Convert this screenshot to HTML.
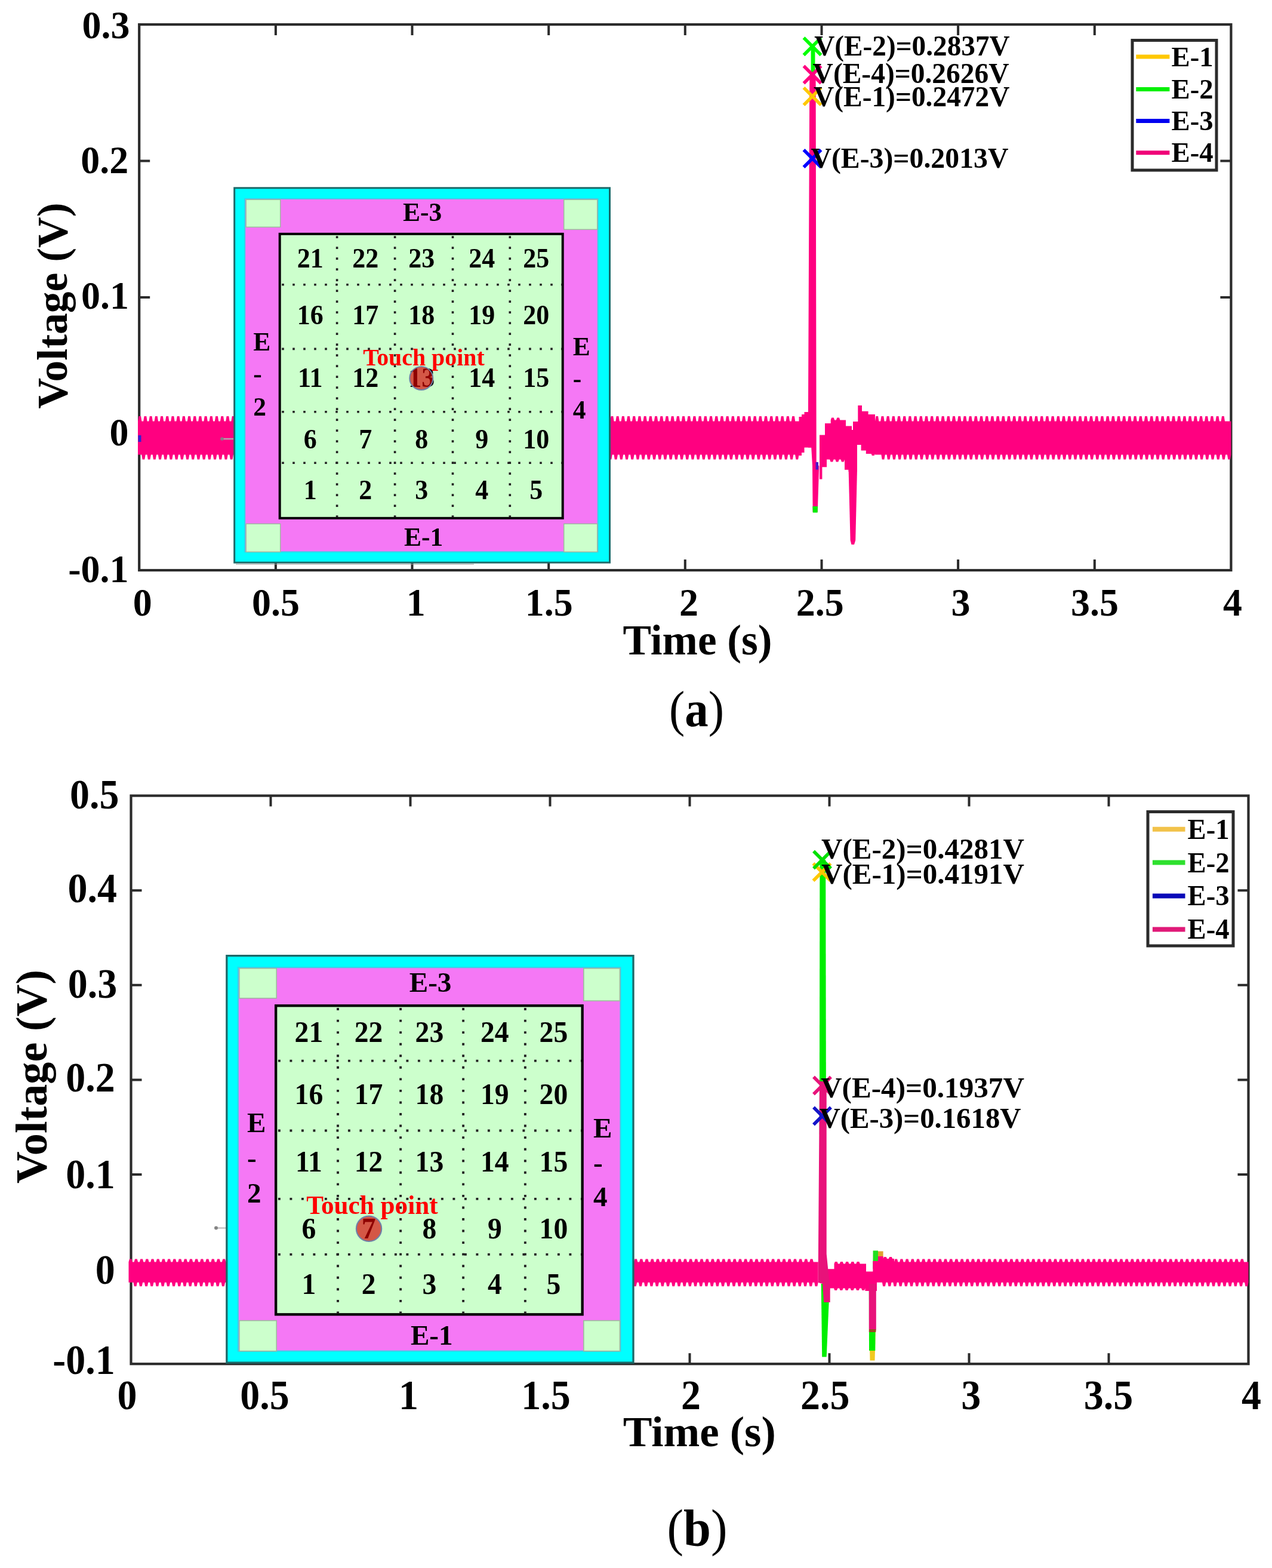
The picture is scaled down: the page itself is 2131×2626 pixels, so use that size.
<!DOCTYPE html><html><head><meta charset="utf-8"><title>Voltage vs time</title>
<style>html,body{margin:0;padding:0;background:#fff;overflow:hidden;}svg{display:block;}text{font-family:'Liberation Serif', 'Times New Roman', serif;}</style></head><body>
<svg width="2131" height="2626" viewBox="0 0 2131 2626">
<rect width="2131" height="2626" fill="#fff"/>
<rect x="233.2" y="41" width="1829.2" height="914" fill="none" stroke="#2b2b2b" stroke-width="4.2"/>
<path d="M461.9,41 V59 M461.9,955 V937 M690.5,41 V59 M690.5,955 V937 M919.2,41 V59 M919.2,955 V937 M1147.8,41 V59 M1147.8,955 V937 M1376.5,41 V59 M1376.5,955 V937 M1605.1,41 V59 M1605.1,955 V937 M1833.8,41 V59 M1833.8,955 V937 M233.2,269.5 H251.2 M2062.4,269.5 H2044.4 M233.2,498 H251.2 M2062.4,498 H2044.4 M233.2,726.5 H251.2 M2062.4,726.5 H2044.4" stroke="#2b2b2b" stroke-width="4" fill="none"/>
<g id="sigA">
<path d="M1358.3,300 L1358.6,78 L1365.4,78 L1365.8,300 Z" fill="#00ff00"/>
<path d="M231,705.5 L232.4,697 L236.1,697 L237.4,705.5 L240.2,705.5 L241.6,697 L245.3,697 L246.6,705.5 L249.4,705.5 L250.8,697 L254.5,697 L255.8,705.5 L258.6,705.5 L260,697 L263.7,697 L265,705.5 L267.8,705.5 L269.2,697 L272.9,697 L274.2,705.5 L277,705.5 L278.4,697 L282.1,697 L283.4,705.5 L286.2,705.5 L287.6,697 L291.3,697 L292.6,705.5 L295.4,705.5 L296.8,697 L300.5,697 L301.8,705.5 L304.6,705.5 L306,697 L309.7,697 L311,705.5 L313.8,705.5 L315.2,697 L318.9,697 L320.2,705.5 L323,705.5 L324.4,697 L328.1,697 L329.4,705.5 L332.2,705.5 L333.6,697 L337.3,697 L338.6,705.5 L341.4,705.5 L342.8,697 L346.5,697 L347.8,705.5 L350.6,705.5 L352,697 L355.7,697 L357,705.5 L359.8,705.5 L361.2,697 L364.9,697 L366.2,705.5 L369,705.5 L370.4,697 L374.1,697 L375.4,705.5 L378.2,705.5 L379.6,697 L383.3,697 L384.6,705.5 L387.4,705.5 L388.8,697 L392.5,697 L393.8,705.5 L396.6,705.5 L398,697 L401.7,697 L403,705.5 L405.8,705.5 L407.2,697 L410.9,697 L412.2,705.5 L415,705.5 L416.4,697 L420.1,697 L421.4,705.5 L424.2,705.5 L425.6,697 L429.3,697 L430.6,705.5 L433.4,705.5 L434.8,697 L438.5,697 L439.8,705.5 L442.6,705.5 L444,697 L447.7,697 L449,705.5 L451.8,705.5 L453.2,697 L456.9,697 L458.2,705.5 L461,705.5 L462.4,697 L466.1,697 L467.4,705.5 L470.2,705.5 L471.6,697 L475.3,697 L476.6,705.5 L479.4,705.5 L480.8,697 L484.5,697 L485.8,705.5 L488.6,705.5 L490,697 L493.7,697 L495,705.5 L497.8,705.5 L499.2,697 L502.9,697 L504.2,705.5 L507,705.5 L508.4,697 L512.1,697 L513.4,705.5 L516.2,705.5 L517.6,697 L521.3,697 L522.6,705.5 L525.4,705.5 L526.8,697 L530.5,697 L531.8,705.5 L534.6,705.5 L536,697 L539.7,697 L541,705.5 L543.8,705.5 L545.2,697 L548.9,697 L550.2,705.5 L553,705.5 L554.4,697 L558.1,697 L559.4,705.5 L562.2,705.5 L563.6,697 L567.3,697 L568.6,705.5 L571.4,705.5 L572.8,697 L576.5,697 L577.8,705.5 L580.6,705.5 L582,697 L585.7,697 L587,705.5 L589.8,705.5 L591.2,697 L594.9,697 L596.2,705.5 L599,705.5 L600.4,697 L604.1,697 L605.4,705.5 L608.2,705.5 L609.6,697 L613.3,697 L614.6,705.5 L617.4,705.5 L618.8,697 L622.5,697 L623.8,705.5 L626.6,705.5 L628,697 L631.7,697 L633,705.5 L635.8,705.5 L637.2,697 L640.9,697 L642.2,705.5 L645,705.5 L646.4,697 L650.1,697 L651.4,705.5 L654.2,705.5 L655.6,697 L659.3,697 L660.6,705.5 L663.4,705.5 L664.8,697 L668.5,697 L669.8,705.5 L672.6,705.5 L674,697 L677.7,697 L679,705.5 L681.8,705.5 L683.2,697 L686.9,697 L688.2,705.5 L691,705.5 L692.4,697 L696.1,697 L697.4,705.5 L700.2,705.5 L701.6,697 L705.3,697 L706.6,705.5 L709.4,705.5 L710.8,697 L714.5,697 L715.8,705.5 L718.6,705.5 L720,697 L723.7,697 L725,705.5 L727.8,705.5 L729.2,697 L732.9,697 L734.2,705.5 L737,705.5 L738.4,697 L742.1,697 L743.4,705.5 L746.2,705.5 L747.6,697 L751.3,697 L752.6,705.5 L755.4,705.5 L756.8,697 L760.5,697 L761.8,705.5 L764.6,705.5 L766,697 L769.7,697 L771,705.5 L773.8,705.5 L775.2,697 L778.9,697 L780.2,705.5 L783,705.5 L784.4,697 L788.1,697 L789.4,705.5 L792.2,705.5 L793.6,697 L797.3,697 L798.6,705.5 L801.4,705.5 L802.8,697 L806.5,697 L807.8,705.5 L810.6,705.5 L812,697 L815.7,697 L817,705.5 L819.8,705.5 L821.2,697 L824.9,697 L826.2,705.5 L829,705.5 L830.4,697 L834.1,697 L835.4,705.5 L838.2,705.5 L839.6,697 L843.3,697 L844.6,705.5 L847.4,705.5 L848.8,697 L852.5,697 L853.8,705.5 L856.6,705.5 L858,697 L861.7,697 L863,705.5 L865.8,705.5 L867.2,697 L870.9,697 L872.2,705.5 L875,705.5 L876.4,697 L880.1,697 L881.4,705.5 L884.2,705.5 L885.6,697 L889.3,697 L890.6,705.5 L893.4,705.5 L894.8,697 L898.5,697 L899.8,705.5 L902.6,705.5 L904,697 L907.7,697 L909,705.5 L911.8,705.5 L913.2,697 L916.9,697 L918.2,705.5 L921,705.5 L922.4,697 L926.1,697 L927.4,705.5 L930.2,705.5 L931.6,697 L935.3,697 L936.6,705.5 L939.4,705.5 L940.8,697 L944.5,697 L945.8,705.5 L948.6,705.5 L950,697 L953.7,697 L955,705.5 L957.8,705.5 L959.2,697 L962.9,697 L964.2,705.5 L967,705.5 L968.4,697 L972.1,697 L973.4,705.5 L976.2,705.5 L977.6,697 L981.3,697 L982.6,705.5 L985.4,705.5 L986.8,697 L990.5,697 L991.8,705.5 L994.6,705.5 L996,697 L999.7,697 L1001,705.5 L1003.8,705.5 L1005.2,697 L1008.9,697 L1010.2,705.5 L1013,705.5 L1014.4,697 L1018.1,697 L1019.4,705.5 L1022.2,705.5 L1023.6,697 L1027.3,697 L1028.6,705.5 L1031.4,705.5 L1032.8,697 L1036.5,697 L1037.8,705.5 L1040.6,705.5 L1042,697 L1045.7,697 L1047,705.5 L1049.8,705.5 L1051.2,697 L1054.9,697 L1056.2,705.5 L1059,705.5 L1060.4,697 L1064.1,697 L1065.4,705.5 L1068.2,705.5 L1069.6,697 L1073.3,697 L1074.6,705.5 L1077.4,705.5 L1078.8,697 L1082.5,697 L1083.8,705.5 L1086.6,705.5 L1088,697 L1091.7,697 L1093,705.5 L1095.8,705.5 L1097.2,697 L1100.9,697 L1102.2,705.5 L1105,705.5 L1106.4,697 L1110.1,697 L1111.4,705.5 L1114.2,705.5 L1115.6,697 L1119.3,697 L1120.6,705.5 L1123.4,705.5 L1124.8,697 L1128.5,697 L1129.8,705.5 L1132.6,705.5 L1134,697 L1137.7,697 L1139,705.5 L1141.8,705.5 L1143.2,697 L1146.9,697 L1148.2,705.5 L1151,705.5 L1152.4,697 L1156.1,697 L1157.4,705.5 L1160.2,705.5 L1161.6,697 L1165.3,697 L1166.6,705.5 L1169.4,705.5 L1170.8,697 L1174.5,697 L1175.8,705.5 L1178.6,705.5 L1180,697 L1183.7,697 L1185,705.5 L1187.8,705.5 L1189.2,697 L1192.9,697 L1194.2,705.5 L1197,705.5 L1198.4,697 L1202.1,697 L1203.4,705.5 L1206.2,705.5 L1207.6,697 L1211.3,697 L1212.6,705.5 L1215.4,705.5 L1216.8,697 L1220.5,697 L1221.8,705.5 L1224.6,705.5 L1226,697 L1229.7,697 L1231,705.5 L1233.8,705.5 L1235.2,697 L1238.9,697 L1240.2,705.5 L1243,705.5 L1244.4,697 L1248.1,697 L1249.4,705.5 L1252.2,705.5 L1253.6,697 L1257.3,697 L1258.6,705.5 L1261.4,705.5 L1262.8,697 L1266.5,697 L1267.8,705.5 L1270.6,705.5 L1272,697 L1275.7,697 L1277,705.5 L1279.8,705.5 L1281.2,697 L1284.9,697 L1286.2,705.5 L1289,705.5 L1290.4,697 L1294.1,697 L1295.4,705.5 L1298.2,705.5 L1299.6,697 L1303.3,697 L1304.6,705.5 L1307.4,705.5 L1308.8,697 L1312.5,697 L1313.8,705.5 L1316.6,705.5 L1318,697 L1321.7,697 L1323,705.5 L1325.8,705.5 L1327.2,697 L1330.9,697 L1332.2,705.5 L1335,705.5 L1338.5,705.5 L1338.5,698 L1343,698 L1343,694 L1347.5,694 L1347.5,690 L1353.9,690 L1359.5,749.4 L1347.5,749.4 L1347.5,758 L1343,758 L1343,763 L1338.5,763 L1338.5,761.5 L1337.1,769.5 L1333.4,769.5 L1332.1,761.5 L1329.3,761.5 L1327.9,769.5 L1324.2,769.5 L1322.9,761.5 L1320.1,761.5 L1318.7,769.5 L1315,769.5 L1313.7,761.5 L1310.9,761.5 L1309.5,769.5 L1305.8,769.5 L1304.5,761.5 L1301.7,761.5 L1300.3,769.5 L1296.6,769.5 L1295.3,761.5 L1292.5,761.5 L1291.1,769.5 L1287.4,769.5 L1286.1,761.5 L1283.3,761.5 L1281.9,769.5 L1278.2,769.5 L1276.9,761.5 L1274.1,761.5 L1272.7,769.5 L1269,769.5 L1267.7,761.5 L1264.9,761.5 L1263.5,769.5 L1259.8,769.5 L1258.5,761.5 L1255.7,761.5 L1254.3,769.5 L1250.6,769.5 L1249.3,761.5 L1246.5,761.5 L1245.1,769.5 L1241.4,769.5 L1240.1,761.5 L1237.3,761.5 L1235.9,769.5 L1232.2,769.5 L1230.9,761.5 L1228.1,761.5 L1226.7,769.5 L1223,769.5 L1221.7,761.5 L1218.9,761.5 L1217.5,769.5 L1213.8,769.5 L1212.5,761.5 L1209.7,761.5 L1208.3,769.5 L1204.6,769.5 L1203.3,761.5 L1200.5,761.5 L1199.1,769.5 L1195.4,769.5 L1194.1,761.5 L1191.3,761.5 L1189.9,769.5 L1186.2,769.5 L1184.9,761.5 L1182.1,761.5 L1180.7,769.5 L1177,769.5 L1175.7,761.5 L1172.9,761.5 L1171.5,769.5 L1167.8,769.5 L1166.5,761.5 L1163.7,761.5 L1162.3,769.5 L1158.6,769.5 L1157.3,761.5 L1154.5,761.5 L1153.1,769.5 L1149.4,769.5 L1148.1,761.5 L1145.3,761.5 L1143.9,769.5 L1140.2,769.5 L1138.9,761.5 L1136.1,761.5 L1134.7,769.5 L1131,769.5 L1129.7,761.5 L1126.9,761.5 L1125.5,769.5 L1121.8,769.5 L1120.5,761.5 L1117.7,761.5 L1116.3,769.5 L1112.6,769.5 L1111.3,761.5 L1108.5,761.5 L1107.1,769.5 L1103.4,769.5 L1102.1,761.5 L1099.3,761.5 L1097.9,769.5 L1094.2,769.5 L1092.9,761.5 L1090.1,761.5 L1088.7,769.5 L1085,769.5 L1083.7,761.5 L1080.9,761.5 L1079.5,769.5 L1075.8,769.5 L1074.5,761.5 L1071.7,761.5 L1070.3,769.5 L1066.6,769.5 L1065.3,761.5 L1062.5,761.5 L1061.1,769.5 L1057.4,769.5 L1056.1,761.5 L1053.3,761.5 L1051.9,769.5 L1048.2,769.5 L1046.9,761.5 L1044.1,761.5 L1042.7,769.5 L1039,769.5 L1037.7,761.5 L1034.9,761.5 L1033.5,769.5 L1029.8,769.5 L1028.5,761.5 L1025.7,761.5 L1024.3,769.5 L1020.6,769.5 L1019.3,761.5 L1016.5,761.5 L1015.1,769.5 L1011.4,769.5 L1010.1,761.5 L1007.3,761.5 L1005.9,769.5 L1002.2,769.5 L1000.9,761.5 L998.1,761.5 L996.7,769.5 L993,769.5 L991.7,761.5 L988.9,761.5 L987.5,769.5 L983.8,769.5 L982.5,761.5 L979.7,761.5 L978.3,769.5 L974.6,769.5 L973.3,761.5 L970.5,761.5 L969.1,769.5 L965.4,769.5 L964.1,761.5 L961.3,761.5 L959.9,769.5 L956.2,769.5 L954.9,761.5 L952.1,761.5 L950.7,769.5 L947,769.5 L945.7,761.5 L942.9,761.5 L941.5,769.5 L937.8,769.5 L936.5,761.5 L933.7,761.5 L932.3,769.5 L928.6,769.5 L927.3,761.5 L924.5,761.5 L923.1,769.5 L919.4,769.5 L918.1,761.5 L915.3,761.5 L913.9,769.5 L910.2,769.5 L908.9,761.5 L906.1,761.5 L904.7,769.5 L901,769.5 L899.7,761.5 L896.9,761.5 L895.5,769.5 L891.8,769.5 L890.5,761.5 L887.7,761.5 L886.3,769.5 L882.6,769.5 L881.3,761.5 L878.5,761.5 L877.1,769.5 L873.4,769.5 L872.1,761.5 L869.3,761.5 L867.9,769.5 L864.2,769.5 L862.9,761.5 L860.1,761.5 L858.7,769.5 L855,769.5 L853.7,761.5 L850.9,761.5 L849.5,769.5 L845.8,769.5 L844.5,761.5 L841.7,761.5 L840.3,769.5 L836.6,769.5 L835.3,761.5 L832.5,761.5 L831.1,769.5 L827.4,769.5 L826.1,761.5 L823.3,761.5 L821.9,769.5 L818.2,769.5 L816.9,761.5 L814.1,761.5 L812.7,769.5 L809,769.5 L807.7,761.5 L804.9,761.5 L803.5,769.5 L799.8,769.5 L798.5,761.5 L795.7,761.5 L794.3,769.5 L790.6,769.5 L789.3,761.5 L786.5,761.5 L785.1,769.5 L781.4,769.5 L780.1,761.5 L777.3,761.5 L775.9,769.5 L772.2,769.5 L770.9,761.5 L768.1,761.5 L766.7,769.5 L763,769.5 L761.7,761.5 L758.9,761.5 L757.5,769.5 L753.8,769.5 L752.5,761.5 L749.7,761.5 L748.3,769.5 L744.6,769.5 L743.3,761.5 L740.5,761.5 L739.1,769.5 L735.4,769.5 L734.1,761.5 L731.3,761.5 L729.9,769.5 L726.2,769.5 L724.9,761.5 L722.1,761.5 L720.7,769.5 L717,769.5 L715.7,761.5 L712.9,761.5 L711.5,769.5 L707.8,769.5 L706.5,761.5 L703.7,761.5 L702.3,769.5 L698.6,769.5 L697.3,761.5 L694.5,761.5 L693.1,769.5 L689.4,769.5 L688.1,761.5 L685.3,761.5 L683.9,769.5 L680.2,769.5 L678.9,761.5 L676.1,761.5 L674.7,769.5 L671,769.5 L669.7,761.5 L666.9,761.5 L665.5,769.5 L661.8,769.5 L660.5,761.5 L657.7,761.5 L656.3,769.5 L652.6,769.5 L651.3,761.5 L648.5,761.5 L647.1,769.5 L643.4,769.5 L642.1,761.5 L639.3,761.5 L637.9,769.5 L634.2,769.5 L632.9,761.5 L630.1,761.5 L628.7,769.5 L625,769.5 L623.7,761.5 L620.9,761.5 L619.5,769.5 L615.8,769.5 L614.5,761.5 L611.7,761.5 L610.3,769.5 L606.6,769.5 L605.3,761.5 L602.5,761.5 L601.1,769.5 L597.4,769.5 L596.1,761.5 L593.3,761.5 L591.9,769.5 L588.2,769.5 L586.9,761.5 L584.1,761.5 L582.7,769.5 L579,769.5 L577.7,761.5 L574.9,761.5 L573.5,769.5 L569.8,769.5 L568.5,761.5 L565.7,761.5 L564.3,769.5 L560.6,769.5 L559.3,761.5 L556.5,761.5 L555.1,769.5 L551.4,769.5 L550.1,761.5 L547.3,761.5 L545.9,769.5 L542.2,769.5 L540.9,761.5 L538.1,761.5 L536.7,769.5 L533,769.5 L531.7,761.5 L528.9,761.5 L527.5,769.5 L523.8,769.5 L522.5,761.5 L519.7,761.5 L518.3,769.5 L514.6,769.5 L513.3,761.5 L510.5,761.5 L509.1,769.5 L505.4,769.5 L504.1,761.5 L501.3,761.5 L499.9,769.5 L496.2,769.5 L494.9,761.5 L492.1,761.5 L490.7,769.5 L487,769.5 L485.7,761.5 L482.9,761.5 L481.5,769.5 L477.8,769.5 L476.5,761.5 L473.7,761.5 L472.3,769.5 L468.6,769.5 L467.3,761.5 L464.5,761.5 L463.1,769.5 L459.4,769.5 L458.1,761.5 L455.3,761.5 L453.9,769.5 L450.2,769.5 L448.9,761.5 L446.1,761.5 L444.7,769.5 L441,769.5 L439.7,761.5 L436.9,761.5 L435.5,769.5 L431.8,769.5 L430.5,761.5 L427.7,761.5 L426.3,769.5 L422.6,769.5 L421.3,761.5 L418.5,761.5 L417.1,769.5 L413.4,769.5 L412.1,761.5 L409.3,761.5 L407.9,769.5 L404.2,769.5 L402.9,761.5 L400.1,761.5 L398.7,769.5 L395,769.5 L393.7,761.5 L390.9,761.5 L389.5,769.5 L385.8,769.5 L384.5,761.5 L381.7,761.5 L380.3,769.5 L376.6,769.5 L375.3,761.5 L372.5,761.5 L371.1,769.5 L367.4,769.5 L366.1,761.5 L363.3,761.5 L361.9,769.5 L358.2,769.5 L356.9,761.5 L354.1,761.5 L352.7,769.5 L349,769.5 L347.7,761.5 L344.9,761.5 L343.5,769.5 L339.8,769.5 L338.5,761.5 L335.7,761.5 L334.3,769.5 L330.6,769.5 L329.3,761.5 L326.5,761.5 L325.1,769.5 L321.4,769.5 L320.1,761.5 L317.3,761.5 L315.9,769.5 L312.2,769.5 L310.9,761.5 L308.1,761.5 L306.7,769.5 L303,769.5 L301.7,761.5 L298.9,761.5 L297.5,769.5 L293.8,769.5 L292.5,761.5 L289.7,761.5 L288.3,769.5 L284.6,769.5 L283.3,761.5 L280.5,761.5 L279.1,769.5 L275.4,769.5 L274.1,761.5 L271.3,761.5 L269.9,769.5 L266.2,769.5 L264.9,761.5 L262.1,761.5 L260.7,769.5 L257,769.5 L255.7,761.5 L252.9,761.5 L251.5,769.5 L247.8,769.5 L246.5,761.5 L243.7,761.5 L242.3,769.5 L238.6,769.5 L237.3,761.5 L234.5,761.5 L231,761.5 Z" fill="#ff0080"/>
<path d="M1353.9,700 L1356.3,126.5 L1366.6,126.5 L1367.7,773 L1372.2,781 L1370.2,843 L1369.8,857.5 L1361.6,857.5 L1361,780 L1359.2,749.4 L1353.9,749.4 Z" fill="#ff0080"/>
<path d="M1373,728.4 L1382,728.4 L1382,709 L1391.7,709 L1391.7,703.5 L1393.1,699.5 L1396.8,699.5 L1398.1,703.5 L1400.9,703.5 L1402.3,699.5 L1406,699.5 L1407.3,703.5 L1410.1,703.5 L1417,703.5 L1417,713.4 L1427,713.4 L1427,720 L1429,720 L1429,706 L1437.3,706 L1437.3,679 L1444,679 L1444,688.7 L1454.6,688.7 L1454.6,694 L1466,694 L1466,705.5 L1467.4,697 L1471.1,697 L1472.4,705.5 L1475.2,705.5 L1476.6,697 L1480.3,697 L1481.6,705.5 L1484.4,705.5 L1485.8,697 L1489.5,697 L1490.8,705.5 L1493.6,705.5 L1495,697 L1498.7,697 L1500,705.5 L1502.8,705.5 L1504.2,697 L1507.9,697 L1509.2,705.5 L1512,705.5 L1513.4,697 L1517.1,697 L1518.4,705.5 L1521.2,705.5 L1522.6,697 L1526.3,697 L1527.6,705.5 L1530.4,705.5 L1531.8,697 L1535.5,697 L1536.8,705.5 L1539.6,705.5 L1541,697 L1544.7,697 L1546,705.5 L1548.8,705.5 L1550.2,697 L1553.9,697 L1555.2,705.5 L1558,705.5 L1559.4,697 L1563.1,697 L1564.4,705.5 L1567.2,705.5 L1568.6,697 L1572.3,697 L1573.6,705.5 L1576.4,705.5 L1577.8,697 L1581.5,697 L1582.8,705.5 L1585.6,705.5 L1587,697 L1590.7,697 L1592,705.5 L1594.8,705.5 L1596.2,697 L1599.9,697 L1601.2,705.5 L1604,705.5 L1605.4,697 L1609.1,697 L1610.4,705.5 L1613.2,705.5 L1614.6,697 L1618.3,697 L1619.6,705.5 L1622.4,705.5 L1623.8,697 L1627.5,697 L1628.8,705.5 L1631.6,705.5 L1633,697 L1636.7,697 L1638,705.5 L1640.8,705.5 L1642.2,697 L1645.9,697 L1647.2,705.5 L1650,705.5 L1651.4,697 L1655.1,697 L1656.4,705.5 L1659.2,705.5 L1660.6,697 L1664.3,697 L1665.6,705.5 L1668.4,705.5 L1669.8,697 L1673.5,697 L1674.8,705.5 L1677.6,705.5 L1679,697 L1682.7,697 L1684,705.5 L1686.8,705.5 L1688.2,697 L1691.9,697 L1693.2,705.5 L1696,705.5 L1697.4,697 L1701.1,697 L1702.4,705.5 L1705.2,705.5 L1706.6,697 L1710.3,697 L1711.6,705.5 L1714.4,705.5 L1715.8,697 L1719.5,697 L1720.8,705.5 L1723.6,705.5 L1725,697 L1728.7,697 L1730,705.5 L1732.8,705.5 L1734.2,697 L1737.9,697 L1739.2,705.5 L1742,705.5 L1743.4,697 L1747.1,697 L1748.4,705.5 L1751.2,705.5 L1752.6,697 L1756.3,697 L1757.6,705.5 L1760.4,705.5 L1761.8,697 L1765.5,697 L1766.8,705.5 L1769.6,705.5 L1771,697 L1774.7,697 L1776,705.5 L1778.8,705.5 L1780.2,697 L1783.9,697 L1785.2,705.5 L1788,705.5 L1789.4,697 L1793.1,697 L1794.4,705.5 L1797.2,705.5 L1798.6,697 L1802.3,697 L1803.6,705.5 L1806.4,705.5 L1807.8,697 L1811.5,697 L1812.8,705.5 L1815.6,705.5 L1817,697 L1820.7,697 L1822,705.5 L1824.8,705.5 L1826.2,697 L1829.9,697 L1831.2,705.5 L1834,705.5 L1835.4,697 L1839.1,697 L1840.4,705.5 L1843.2,705.5 L1844.6,697 L1848.3,697 L1849.6,705.5 L1852.4,705.5 L1853.8,697 L1857.5,697 L1858.8,705.5 L1861.6,705.5 L1863,697 L1866.7,697 L1868,705.5 L1870.8,705.5 L1872.2,697 L1875.9,697 L1877.2,705.5 L1880,705.5 L1881.4,697 L1885.1,697 L1886.4,705.5 L1889.2,705.5 L1890.6,697 L1894.3,697 L1895.6,705.5 L1898.4,705.5 L1899.8,697 L1903.5,697 L1904.8,705.5 L1907.6,705.5 L1909,697 L1912.7,697 L1914,705.5 L1916.8,705.5 L1918.2,697 L1921.9,697 L1923.2,705.5 L1926,705.5 L1927.4,697 L1931.1,697 L1932.4,705.5 L1935.2,705.5 L1936.6,697 L1940.3,697 L1941.6,705.5 L1944.4,705.5 L1945.8,697 L1949.5,697 L1950.8,705.5 L1953.6,705.5 L1955,697 L1958.7,697 L1960,705.5 L1962.8,705.5 L1964.2,697 L1967.9,697 L1969.2,705.5 L1972,705.5 L1973.4,697 L1977.1,697 L1978.4,705.5 L1981.2,705.5 L1982.6,697 L1986.3,697 L1987.6,705.5 L1990.4,705.5 L1991.8,697 L1995.5,697 L1996.8,705.5 L1999.6,705.5 L2001,697 L2004.7,697 L2006,705.5 L2008.8,705.5 L2010.2,697 L2013.9,697 L2015.2,705.5 L2018,705.5 L2019.4,697 L2023.1,697 L2024.4,705.5 L2027.2,705.5 L2028.6,697 L2032.3,697 L2033.6,705.5 L2036.4,705.5 L2037.8,697 L2041.5,697 L2042.8,705.5 L2045.6,705.5 L2047,697 L2050.7,697 L2052,705.5 L2054.8,705.5 L2062.4,705.5 L2062.4,761.5 L2061,769.5 L2057.3,769.5 L2056,761.5 L2053.2,761.5 L2051.8,769.5 L2048.1,769.5 L2046.8,761.5 L2044,761.5 L2042.6,769.5 L2038.9,769.5 L2037.6,761.5 L2034.8,761.5 L2033.4,769.5 L2029.7,769.5 L2028.4,761.5 L2025.6,761.5 L2024.2,769.5 L2020.5,769.5 L2019.2,761.5 L2016.4,761.5 L2015,769.5 L2011.3,769.5 L2010,761.5 L2007.2,761.5 L2005.8,769.5 L2002.1,769.5 L2000.8,761.5 L1998,761.5 L1996.6,769.5 L1992.9,769.5 L1991.6,761.5 L1988.8,761.5 L1987.4,769.5 L1983.7,769.5 L1982.4,761.5 L1979.6,761.5 L1978.2,769.5 L1974.5,769.5 L1973.2,761.5 L1970.4,761.5 L1969,769.5 L1965.3,769.5 L1964,761.5 L1961.2,761.5 L1959.8,769.5 L1956.1,769.5 L1954.8,761.5 L1952,761.5 L1950.6,769.5 L1946.9,769.5 L1945.6,761.5 L1942.8,761.5 L1941.4,769.5 L1937.7,769.5 L1936.4,761.5 L1933.6,761.5 L1932.2,769.5 L1928.5,769.5 L1927.2,761.5 L1924.4,761.5 L1923,769.5 L1919.3,769.5 L1918,761.5 L1915.2,761.5 L1913.8,769.5 L1910.1,769.5 L1908.8,761.5 L1906,761.5 L1904.6,769.5 L1900.9,769.5 L1899.6,761.5 L1896.8,761.5 L1895.4,769.5 L1891.7,769.5 L1890.4,761.5 L1887.6,761.5 L1886.2,769.5 L1882.5,769.5 L1881.2,761.5 L1878.4,761.5 L1877,769.5 L1873.3,769.5 L1872,761.5 L1869.2,761.5 L1867.8,769.5 L1864.1,769.5 L1862.8,761.5 L1860,761.5 L1858.6,769.5 L1854.9,769.5 L1853.6,761.5 L1850.8,761.5 L1849.4,769.5 L1845.7,769.5 L1844.4,761.5 L1841.6,761.5 L1840.2,769.5 L1836.5,769.5 L1835.2,761.5 L1832.4,761.5 L1831,769.5 L1827.3,769.5 L1826,761.5 L1823.2,761.5 L1821.8,769.5 L1818.1,769.5 L1816.8,761.5 L1814,761.5 L1812.6,769.5 L1808.9,769.5 L1807.6,761.5 L1804.8,761.5 L1803.4,769.5 L1799.7,769.5 L1798.4,761.5 L1795.6,761.5 L1794.2,769.5 L1790.5,769.5 L1789.2,761.5 L1786.4,761.5 L1785,769.5 L1781.3,769.5 L1780,761.5 L1777.2,761.5 L1775.8,769.5 L1772.1,769.5 L1770.8,761.5 L1768,761.5 L1766.6,769.5 L1762.9,769.5 L1761.6,761.5 L1758.8,761.5 L1757.4,769.5 L1753.7,769.5 L1752.4,761.5 L1749.6,761.5 L1748.2,769.5 L1744.5,769.5 L1743.2,761.5 L1740.4,761.5 L1739,769.5 L1735.3,769.5 L1734,761.5 L1731.2,761.5 L1729.8,769.5 L1726.1,769.5 L1724.8,761.5 L1722,761.5 L1720.6,769.5 L1716.9,769.5 L1715.6,761.5 L1712.8,761.5 L1711.4,769.5 L1707.7,769.5 L1706.4,761.5 L1703.6,761.5 L1702.2,769.5 L1698.5,769.5 L1697.2,761.5 L1694.4,761.5 L1693,769.5 L1689.3,769.5 L1688,761.5 L1685.2,761.5 L1683.8,769.5 L1680.1,769.5 L1678.8,761.5 L1676,761.5 L1674.6,769.5 L1670.9,769.5 L1669.6,761.5 L1666.8,761.5 L1665.4,769.5 L1661.7,769.5 L1660.4,761.5 L1657.6,761.5 L1656.2,769.5 L1652.5,769.5 L1651.2,761.5 L1648.4,761.5 L1647,769.5 L1643.3,769.5 L1642,761.5 L1639.2,761.5 L1637.8,769.5 L1634.1,769.5 L1632.8,761.5 L1630,761.5 L1628.6,769.5 L1624.9,769.5 L1623.6,761.5 L1620.8,761.5 L1619.4,769.5 L1615.7,769.5 L1614.4,761.5 L1611.6,761.5 L1610.2,769.5 L1606.5,769.5 L1605.2,761.5 L1602.4,761.5 L1601,769.5 L1597.3,769.5 L1596,761.5 L1593.2,761.5 L1591.8,769.5 L1588.1,769.5 L1586.8,761.5 L1584,761.5 L1582.6,769.5 L1578.9,769.5 L1577.6,761.5 L1574.8,761.5 L1573.4,769.5 L1569.7,769.5 L1568.4,761.5 L1565.6,761.5 L1564.2,769.5 L1560.5,769.5 L1559.2,761.5 L1556.4,761.5 L1555,769.5 L1551.3,769.5 L1550,761.5 L1547.2,761.5 L1545.8,769.5 L1542.1,769.5 L1540.8,761.5 L1538,761.5 L1536.6,769.5 L1532.9,769.5 L1531.6,761.5 L1528.8,761.5 L1527.4,769.5 L1523.7,769.5 L1522.4,761.5 L1519.6,761.5 L1518.2,769.5 L1514.5,769.5 L1513.2,761.5 L1510.4,761.5 L1509,769.5 L1505.3,769.5 L1504,761.5 L1501.2,761.5 L1499.8,769.5 L1496.1,769.5 L1494.8,761.5 L1492,761.5 L1490.6,769.5 L1486.9,769.5 L1485.6,761.5 L1482.8,761.5 L1481.4,769.5 L1477.7,769.5 L1476.4,761.5 L1473.6,761.5 L1466,761.5 L1466,760 L1464.6,763 L1460.9,763 L1459.6,760 L1456.8,760 L1450.8,760 L1450.8,754.6 L1442.6,754.6 L1442.6,744.9 L1436,744.9 L1436,790 L1433,790 L1424.6,790 L1421.6,790 L1421.6,786.8 L1415,786.8 L1415,769.5 L1413.6,773.5 L1409.9,773.5 L1408.6,769.5 L1405.8,769.5 L1404.4,773.5 L1400.7,773.5 L1399.4,769.5 L1396.6,769.5 L1395.2,773.5 L1391.5,773.5 L1390.2,769.5 L1387.4,769.5 L1385,769.5 L1385,782.3 L1377.4,782.3 L1377.4,802.5 L1373,802.5 Z" fill="#ff0080"/>
<path d="M1421.6,786 L1436,786 L1433.2,905 L1431,912 L1426.5,912 L1424.6,905 Z" fill="#ff0080"/>
<path d="M1361.4,848 L1370,848 L1369.6,858.6 L1361.8,858.6 Z" fill="#00ee00"/>
<rect x="1366.5" y="774" width="4.5" height="12.5" fill="#4a18c8"/>
<rect x="231.5" y="729" width="5" height="11" fill="#3020d0"/>
</g>
<line x1="372" y1="735" x2="391.5" y2="735" stroke="#b8a0b0" stroke-width="2.5"/><circle cx="372" cy="735" r="2.8" fill="#8a7a86"/>
<line x1="395" y1="945" x2="794" y2="945" stroke="#9a9a9a" stroke-width="1.6" stroke-opacity="0.7"/>
<g transform="translate(391.2,313.3) scale(1.0000,1.0000)">
<rect x="1.5" y="1.5" width="628.8" height="627.3" fill="#00ffff" stroke="#1d6868" stroke-width="3"/>
<rect x="19" y="19.5" width="591.5" height="591.5" fill="#f578f5"/>
<rect x="19" y="19.5" width="591.5" height="591.5" fill="none" stroke="#3ad0e8" stroke-width="2"/>
<rect x="21" y="21" width="57.5" height="46" fill="#ccffcc" stroke="#9fb8a0" stroke-width="1.5"/>
<rect x="553.5" y="21" width="56" height="50" fill="#ccffcc" stroke="#9fb8a0" stroke-width="1.5"/>
<rect x="21" y="564" width="57.5" height="47" fill="#ccffcc" stroke="#9fb8a0" stroke-width="1.5"/>
<rect x="553.5" y="564" width="56" height="47" fill="#ccffcc" stroke="#9fb8a0" stroke-width="1.5"/>
<rect x="77.5" y="78.5" width="474" height="476" fill="#ccffcc" stroke="#000" stroke-width="4"/>
<line x1="173.4" y1="82" x2="173.4" y2="553" stroke="#222" stroke-width="3.6" stroke-dasharray="3.6 14.4"/>
<line x1="270.4" y1="82" x2="270.4" y2="553" stroke="#222" stroke-width="3.6" stroke-dasharray="3.6 14.4"/>
<line x1="367.3" y1="82" x2="367.3" y2="553" stroke="#222" stroke-width="3.6" stroke-dasharray="3.6 14.4"/>
<line x1="463.1" y1="82" x2="463.1" y2="553" stroke="#222" stroke-width="3.6" stroke-dasharray="3.6 14.4"/>
<line x1="81" y1="163.5" x2="550" y2="163.5" stroke="#222" stroke-width="3.6" stroke-dasharray="3.6 14.4"/>
<line x1="81" y1="271.1" x2="550" y2="271.1" stroke="#222" stroke-width="3.6" stroke-dasharray="3.6 14.4"/>
<line x1="81" y1="376.4" x2="550" y2="376.4" stroke="#222" stroke-width="3.6" stroke-dasharray="3.6 14.4"/>
<line x1="81" y1="462.0" x2="550" y2="462.0" stroke="#222" stroke-width="3.6" stroke-dasharray="3.6 14.4"/>
<text transform="translate(128.5,134.2) scale(1,1.070)" font-size="44" text-anchor="middle" fill="#000" font-weight="bold">21</text>
<text transform="translate(221,134.2) scale(1,1.070)" font-size="44" text-anchor="middle" fill="#000" font-weight="bold">22</text>
<text transform="translate(315,134.2) scale(1,1.070)" font-size="44" text-anchor="middle" fill="#000" font-weight="bold">23</text>
<text transform="translate(416,134.2) scale(1,1.070)" font-size="44" text-anchor="middle" fill="#000" font-weight="bold">24</text>
<text transform="translate(507,134.2) scale(1,1.070)" font-size="44" text-anchor="middle" fill="#000" font-weight="bold">25</text>
<text transform="translate(128.5,230) scale(1,1.070)" font-size="44" text-anchor="middle" fill="#000" font-weight="bold">16</text>
<text transform="translate(221,230) scale(1,1.070)" font-size="44" text-anchor="middle" fill="#000" font-weight="bold">17</text>
<text transform="translate(315,230) scale(1,1.070)" font-size="44" text-anchor="middle" fill="#000" font-weight="bold">18</text>
<text transform="translate(416,230) scale(1,1.070)" font-size="44" text-anchor="middle" fill="#000" font-weight="bold">19</text>
<text transform="translate(507,230) scale(1,1.070)" font-size="44" text-anchor="middle" fill="#000" font-weight="bold">20</text>
<text transform="translate(128.5,334.4) scale(1,1.070)" font-size="44" text-anchor="middle" fill="#000" font-weight="bold">11</text>
<text transform="translate(221,334.4) scale(1,1.070)" font-size="44" text-anchor="middle" fill="#000" font-weight="bold">12</text>
<text transform="translate(315,334.4) scale(1,1.070)" font-size="44" text-anchor="middle" fill="#000" font-weight="bold">13</text>
<text transform="translate(416,334.4) scale(1,1.070)" font-size="44" text-anchor="middle" fill="#000" font-weight="bold">14</text>
<text transform="translate(507,334.4) scale(1,1.070)" font-size="44" text-anchor="middle" fill="#000" font-weight="bold">15</text>
<text transform="translate(128.5,437.5) scale(1,1.070)" font-size="44" text-anchor="middle" fill="#000" font-weight="bold">6</text>
<text transform="translate(221,437.5) scale(1,1.070)" font-size="44" text-anchor="middle" fill="#000" font-weight="bold">7</text>
<text transform="translate(315,437.5) scale(1,1.070)" font-size="44" text-anchor="middle" fill="#000" font-weight="bold">8</text>
<text transform="translate(416,437.5) scale(1,1.070)" font-size="44" text-anchor="middle" fill="#000" font-weight="bold">9</text>
<text transform="translate(507,437.5) scale(1,1.070)" font-size="44" text-anchor="middle" fill="#000" font-weight="bold">10</text>
<text transform="translate(128.5,523) scale(1,1.070)" font-size="44" text-anchor="middle" fill="#000" font-weight="bold">1</text>
<text transform="translate(221,523) scale(1,1.070)" font-size="44" text-anchor="middle" fill="#000" font-weight="bold">2</text>
<text transform="translate(315,523) scale(1,1.070)" font-size="44" text-anchor="middle" fill="#000" font-weight="bold">3</text>
<text transform="translate(416,523) scale(1,1.070)" font-size="44" text-anchor="middle" fill="#000" font-weight="bold">4</text>
<text transform="translate(507,523) scale(1,1.070)" font-size="44" text-anchor="middle" fill="#000" font-weight="bold">5</text>
<text x="316.5" y="57" font-size="43.5" text-anchor="middle" fill="#000" font-weight="bold">E-3</text>
<text x="318.5" y="600.7" font-size="43.5" text-anchor="middle" fill="#000" font-weight="bold">E-1</text>
<text x="33" y="273.7" font-size="43.5" text-anchor="start" fill="#000" font-weight="bold">E</text>
<text x="33" y="328" font-size="43.5" text-anchor="start" fill="#000" font-weight="bold">-</text>
<text x="33" y="382.5" font-size="43.5" text-anchor="start" fill="#000" font-weight="bold">2</text>
<text x="568.5" y="281.4" font-size="43.5" text-anchor="start" fill="#000" font-weight="bold">E</text>
<text x="568.5" y="335.4" font-size="43.5" text-anchor="start" fill="#000" font-weight="bold">-</text>
<text x="568.5" y="387.7" font-size="43.5" text-anchor="start" fill="#000" font-weight="bold">4</text>
<circle cx="314.6" cy="320.1" r="19.5" fill="#d70000" fill-opacity="0.66" stroke="#7080a8" stroke-width="2"/>
<text x="217" y="298.3" font-size="40.3" text-anchor="start" fill="#ff0000" font-weight="bold" textLength="203.5" lengthAdjust="spacingAndGlyphs">Touch point</text>
</g>
<path d="M1346.5,146.9 L1375.5,175.9 M1346.5,175.9 L1375.5,146.9" stroke="#ffc800" stroke-width="5.5" fill="none" stroke-linecap="butt"/>
<path d="M1346.5,63.3 L1375.5,92.3 M1346.5,92.3 L1375.5,63.3" stroke="#00ff00" stroke-width="5.5" fill="none" stroke-linecap="butt"/>
<path d="M1346.5,251 L1375.5,280 M1346.5,280 L1375.5,251" stroke="#0000ff" stroke-width="5.5" fill="none" stroke-linecap="butt"/>
<path d="M1346.5,110.5 L1375.5,139.5 M1346.5,139.5 L1375.5,110.5" stroke="#ff0080" stroke-width="5.5" fill="none" stroke-linecap="butt"/>
<text x="1364.2" y="93" font-size="47.5" text-anchor="start" fill="#000" font-weight="bold" textLength="327.5" lengthAdjust="spacingAndGlyphs">V(E-2)=0.2837V</text>
<text x="1361.6" y="139" font-size="47.5" text-anchor="start" fill="#000" font-weight="bold" textLength="329" lengthAdjust="spacingAndGlyphs">V(E-4)=0.2626V</text>
<text x="1363" y="178.2" font-size="47.5" text-anchor="start" fill="#000" font-weight="bold" textLength="328.5" lengthAdjust="spacingAndGlyphs">V(E-1)=0.2472V</text>
<text x="1358.4" y="280.8" font-size="47.5" text-anchor="start" fill="#000" font-weight="bold" textLength="331" lengthAdjust="spacingAndGlyphs">V(E-3)=0.2013V</text>
<rect x="1897" y="67.5" width="141" height="217.5" fill="#fff" stroke="#2b2b2b" stroke-width="5"/>
<line x1="1903.3" y1="95" x2="1959.4" y2="95" stroke="#ffc800" stroke-width="7"/>
<line x1="1903.3" y1="149.4" x2="1959.4" y2="149.4" stroke="#00f000" stroke-width="7"/>
<line x1="1903.3" y1="202.5" x2="1959.4" y2="202.5" stroke="#0000f0" stroke-width="7"/>
<line x1="1903.3" y1="255.7" x2="1959.4" y2="255.7" stroke="#f00078" stroke-width="7"/>
<text x="1962.5" y="111.4" font-size="47" text-anchor="start" fill="#000" font-weight="bold" textLength="70" lengthAdjust="spacingAndGlyphs">E-1</text>
<text x="1962.5" y="165.1" font-size="47" text-anchor="start" fill="#000" font-weight="bold" textLength="70" lengthAdjust="spacingAndGlyphs">E-2</text>
<text x="1962.5" y="218.3" font-size="47" text-anchor="start" fill="#000" font-weight="bold" textLength="70" lengthAdjust="spacingAndGlyphs">E-3</text>
<text x="1962.5" y="271" font-size="47" text-anchor="start" fill="#000" font-weight="bold" textLength="70" lengthAdjust="spacingAndGlyphs">E-4</text>
<text transform="translate(217.6,64.3) scale(1,1.035)" font-size="64" text-anchor="end" fill="#000" font-weight="bold">0.3</text>
<text transform="translate(215.2,290.4) scale(1,1.035)" font-size="64" text-anchor="end" fill="#000" font-weight="bold">0.2</text>
<text transform="translate(216,517.4) scale(1,1.035)" font-size="64" text-anchor="end" fill="#000" font-weight="bold">0.1</text>
<text transform="translate(215.6,746.3) scale(1,1.035)" font-size="64" text-anchor="end" fill="#000" font-weight="bold">0</text>
<text transform="translate(215.6,975.3) scale(1,1.035)" font-size="64" text-anchor="end" fill="#000" font-weight="bold">-0.1</text>
<text transform="translate(238.7,1031) scale(1,1.035)" font-size="64" text-anchor="middle" fill="#000" font-weight="bold">0</text>
<text transform="translate(462,1031) scale(1,1.035)" font-size="64" text-anchor="middle" fill="#000" font-weight="bold">0.5</text>
<text transform="translate(696.7,1031) scale(1,1.035)" font-size="64" text-anchor="middle" fill="#000" font-weight="bold">1</text>
<text transform="translate(919.7,1031) scale(1,1.035)" font-size="64" text-anchor="middle" fill="#000" font-weight="bold">1.5</text>
<text transform="translate(1154,1031) scale(1,1.035)" font-size="64" text-anchor="middle" fill="#000" font-weight="bold">2</text>
<text transform="translate(1373.7,1031) scale(1,1.035)" font-size="64" text-anchor="middle" fill="#000" font-weight="bold">2.5</text>
<text transform="translate(1609.5,1031) scale(1,1.035)" font-size="64" text-anchor="middle" fill="#000" font-weight="bold">3</text>
<text transform="translate(1834,1031) scale(1,1.035)" font-size="64" text-anchor="middle" fill="#000" font-weight="bold">3.5</text>
<text transform="translate(2065,1031) scale(1,1.035)" font-size="64" text-anchor="middle" fill="#000" font-weight="bold">4</text>
<text x="1168.5" y="1096.2" font-size="72" text-anchor="middle" fill="#000" font-weight="bold" textLength="250" lengthAdjust="spacingAndGlyphs">Time (s)</text>
<text transform="translate(112,512) rotate(-90)" font-size="72" text-anchor="middle" font-weight="bold" textLength="345" lengthAdjust="spacingAndGlyphs">Voltage (V)</text>
<text x="1167" y="1215.6" font-size="85" text-anchor="middle" fill="#000" font-weight="bold" textLength="92" lengthAdjust="spacingAndGlyphs"><tspan font-weight="normal">(</tspan>a<tspan font-weight="normal">)</tspan></text>
<rect x="219.5" y="1332.6" width="1872" height="951.6" fill="none" stroke="#2b2b2b" stroke-width="4.2"/>
<path d="M453.5,1332.6 V1350.6 M453.5,2284.2 V2266.2 M687.5,1332.6 V1350.6 M687.5,2284.2 V2266.2 M921.5,1332.6 V1350.6 M921.5,2284.2 V2266.2 M1155.5,1332.6 V1350.6 M1155.5,2284.2 V2266.2 M1389.5,1332.6 V1350.6 M1389.5,2284.2 V2266.2 M1623.5,1332.6 V1350.6 M1623.5,2284.2 V2266.2 M1857.5,1332.6 V1350.6 M1857.5,2284.2 V2266.2 M219.5,1491.2 H237.5 M2091.5,1491.2 H2073.5 M219.5,1649.8 H237.5 M2091.5,1649.8 H2073.5 M219.5,1808.4 H237.5 M2091.5,1808.4 H2073.5 M219.5,1967 H237.5 M2091.5,1967 H2073.5 M219.5,2125.6 H237.5 M2091.5,2125.6 H2073.5" stroke="#2b2b2b" stroke-width="4" fill="none"/>
<g id="sigB">
<path d="M1372.8,1900 L1373.4,1440 L1383.2,1440 L1384,1900 Z" fill="#00ee00"/>
<path d="M1375.7,2150 L1390,2150 L1384.7,2272.5 L1377.2,2272.5 Z" fill="#00ee00"/>
<path d="M1456.5,2230 L1466.8,2230 L1465.5,2278.5 L1457.5,2278.5 Z" fill="#f0c820"/>
<path d="M1455.8,2150 L1466.8,2150 L1466.3,2262 L1456,2262 Z" fill="#00ee00"/>
<path d="M1462.3,2125 L1462.6,2094.5 L1471,2094.5 L1471,2125 Z" fill="#20e020"/>
<path d="M1471,2125 L1471,2095.5 L1479.6,2095.5 L1479.6,2125 Z" fill="#e0a030"/>
<path d="M215.5,2113.5 L216.9,2108.5 L220.6,2108.5 L221.9,2113.5 L224.7,2113.5 L226.1,2108.5 L229.8,2108.5 L231.1,2113.5 L233.9,2113.5 L235.3,2108.5 L239,2108.5 L240.3,2113.5 L243.1,2113.5 L244.5,2108.5 L248.2,2108.5 L249.5,2113.5 L252.3,2113.5 L253.7,2108.5 L257.4,2108.5 L258.7,2113.5 L261.5,2113.5 L262.9,2108.5 L266.6,2108.5 L267.9,2113.5 L270.7,2113.5 L272.1,2108.5 L275.8,2108.5 L277.1,2113.5 L279.9,2113.5 L281.3,2108.5 L285,2108.5 L286.3,2113.5 L289.1,2113.5 L290.5,2108.5 L294.2,2108.5 L295.5,2113.5 L298.3,2113.5 L299.7,2108.5 L303.4,2108.5 L304.7,2113.5 L307.5,2113.5 L308.9,2108.5 L312.6,2108.5 L313.9,2113.5 L316.7,2113.5 L318.1,2108.5 L321.8,2108.5 L323.1,2113.5 L325.9,2113.5 L327.3,2108.5 L331,2108.5 L332.3,2113.5 L335.1,2113.5 L336.5,2108.5 L340.2,2108.5 L341.5,2113.5 L344.3,2113.5 L345.7,2108.5 L349.4,2108.5 L350.7,2113.5 L353.5,2113.5 L354.9,2108.5 L358.6,2108.5 L359.9,2113.5 L362.7,2113.5 L364.1,2108.5 L367.8,2108.5 L369.1,2113.5 L371.9,2113.5 L373.3,2108.5 L377,2108.5 L378.3,2113.5 L381.1,2113.5 L382.5,2108.5 L386.2,2108.5 L387.5,2113.5 L390.3,2113.5 L391.7,2108.5 L395.4,2108.5 L396.7,2113.5 L399.5,2113.5 L400.9,2108.5 L404.6,2108.5 L405.9,2113.5 L408.7,2113.5 L410.1,2108.5 L413.8,2108.5 L415.1,2113.5 L417.9,2113.5 L419.3,2108.5 L423,2108.5 L424.3,2113.5 L427.1,2113.5 L428.5,2108.5 L432.2,2108.5 L433.5,2113.5 L436.3,2113.5 L437.7,2108.5 L441.4,2108.5 L442.7,2113.5 L445.5,2113.5 L446.9,2108.5 L450.6,2108.5 L451.9,2113.5 L454.7,2113.5 L456.1,2108.5 L459.8,2108.5 L461.1,2113.5 L463.9,2113.5 L465.3,2108.5 L469,2108.5 L470.3,2113.5 L473.1,2113.5 L474.5,2108.5 L478.2,2108.5 L479.5,2113.5 L482.3,2113.5 L483.7,2108.5 L487.4,2108.5 L488.7,2113.5 L491.5,2113.5 L492.9,2108.5 L496.6,2108.5 L497.9,2113.5 L500.7,2113.5 L502.1,2108.5 L505.8,2108.5 L507.1,2113.5 L509.9,2113.5 L511.3,2108.5 L515,2108.5 L516.3,2113.5 L519.1,2113.5 L520.5,2108.5 L524.2,2108.5 L525.5,2113.5 L528.3,2113.5 L529.7,2108.5 L533.4,2108.5 L534.7,2113.5 L537.5,2113.5 L538.9,2108.5 L542.6,2108.5 L543.9,2113.5 L546.7,2113.5 L548.1,2108.5 L551.8,2108.5 L553.1,2113.5 L555.9,2113.5 L557.3,2108.5 L561,2108.5 L562.3,2113.5 L565.1,2113.5 L566.5,2108.5 L570.2,2108.5 L571.5,2113.5 L574.3,2113.5 L575.7,2108.5 L579.4,2108.5 L580.7,2113.5 L583.5,2113.5 L584.9,2108.5 L588.6,2108.5 L589.9,2113.5 L592.7,2113.5 L594.1,2108.5 L597.8,2108.5 L599.1,2113.5 L601.9,2113.5 L603.3,2108.5 L607,2108.5 L608.3,2113.5 L611.1,2113.5 L612.5,2108.5 L616.2,2108.5 L617.5,2113.5 L620.3,2113.5 L621.7,2108.5 L625.4,2108.5 L626.7,2113.5 L629.5,2113.5 L630.9,2108.5 L634.6,2108.5 L635.9,2113.5 L638.7,2113.5 L640.1,2108.5 L643.8,2108.5 L645.1,2113.5 L647.9,2113.5 L649.3,2108.5 L653,2108.5 L654.3,2113.5 L657.1,2113.5 L658.5,2108.5 L662.2,2108.5 L663.5,2113.5 L666.3,2113.5 L667.7,2108.5 L671.4,2108.5 L672.7,2113.5 L675.5,2113.5 L676.9,2108.5 L680.6,2108.5 L681.9,2113.5 L684.7,2113.5 L686.1,2108.5 L689.8,2108.5 L691.1,2113.5 L693.9,2113.5 L695.3,2108.5 L699,2108.5 L700.3,2113.5 L703.1,2113.5 L704.5,2108.5 L708.2,2108.5 L709.5,2113.5 L712.3,2113.5 L713.7,2108.5 L717.4,2108.5 L718.7,2113.5 L721.5,2113.5 L722.9,2108.5 L726.6,2108.5 L727.9,2113.5 L730.7,2113.5 L732.1,2108.5 L735.8,2108.5 L737.1,2113.5 L739.9,2113.5 L741.3,2108.5 L745,2108.5 L746.3,2113.5 L749.1,2113.5 L750.5,2108.5 L754.2,2108.5 L755.5,2113.5 L758.3,2113.5 L759.7,2108.5 L763.4,2108.5 L764.7,2113.5 L767.5,2113.5 L768.9,2108.5 L772.6,2108.5 L773.9,2113.5 L776.7,2113.5 L778.1,2108.5 L781.8,2108.5 L783.1,2113.5 L785.9,2113.5 L787.3,2108.5 L791,2108.5 L792.3,2113.5 L795.1,2113.5 L796.5,2108.5 L800.2,2108.5 L801.5,2113.5 L804.3,2113.5 L805.7,2108.5 L809.4,2108.5 L810.7,2113.5 L813.5,2113.5 L814.9,2108.5 L818.6,2108.5 L819.9,2113.5 L822.7,2113.5 L824.1,2108.5 L827.8,2108.5 L829.1,2113.5 L831.9,2113.5 L833.3,2108.5 L837,2108.5 L838.3,2113.5 L841.1,2113.5 L842.5,2108.5 L846.2,2108.5 L847.5,2113.5 L850.3,2113.5 L851.7,2108.5 L855.4,2108.5 L856.7,2113.5 L859.5,2113.5 L860.9,2108.5 L864.6,2108.5 L865.9,2113.5 L868.7,2113.5 L870.1,2108.5 L873.8,2108.5 L875.1,2113.5 L877.9,2113.5 L879.3,2108.5 L883,2108.5 L884.3,2113.5 L887.1,2113.5 L888.5,2108.5 L892.2,2108.5 L893.5,2113.5 L896.3,2113.5 L897.7,2108.5 L901.4,2108.5 L902.7,2113.5 L905.5,2113.5 L906.9,2108.5 L910.6,2108.5 L911.9,2113.5 L914.7,2113.5 L916.1,2108.5 L919.8,2108.5 L921.1,2113.5 L923.9,2113.5 L925.3,2108.5 L929,2108.5 L930.3,2113.5 L933.1,2113.5 L934.5,2108.5 L938.2,2108.5 L939.5,2113.5 L942.3,2113.5 L943.7,2108.5 L947.4,2108.5 L948.7,2113.5 L951.5,2113.5 L952.9,2108.5 L956.6,2108.5 L957.9,2113.5 L960.7,2113.5 L962.1,2108.5 L965.8,2108.5 L967.1,2113.5 L969.9,2113.5 L971.3,2108.5 L975,2108.5 L976.3,2113.5 L979.1,2113.5 L980.5,2108.5 L984.2,2108.5 L985.5,2113.5 L988.3,2113.5 L989.7,2108.5 L993.4,2108.5 L994.7,2113.5 L997.5,2113.5 L998.9,2108.5 L1002.6,2108.5 L1003.9,2113.5 L1006.7,2113.5 L1008.1,2108.5 L1011.8,2108.5 L1013.1,2113.5 L1015.9,2113.5 L1017.3,2108.5 L1021,2108.5 L1022.3,2113.5 L1025.1,2113.5 L1026.5,2108.5 L1030.2,2108.5 L1031.5,2113.5 L1034.3,2113.5 L1035.7,2108.5 L1039.4,2108.5 L1040.7,2113.5 L1043.5,2113.5 L1044.9,2108.5 L1048.6,2108.5 L1049.9,2113.5 L1052.7,2113.5 L1054.1,2108.5 L1057.8,2108.5 L1059.1,2113.5 L1061.9,2113.5 L1063.3,2108.5 L1067,2108.5 L1068.3,2113.5 L1071.1,2113.5 L1072.5,2108.5 L1076.2,2108.5 L1077.5,2113.5 L1080.3,2113.5 L1081.7,2108.5 L1085.4,2108.5 L1086.7,2113.5 L1089.5,2113.5 L1090.9,2108.5 L1094.6,2108.5 L1095.9,2113.5 L1098.7,2113.5 L1100.1,2108.5 L1103.8,2108.5 L1105.1,2113.5 L1107.9,2113.5 L1109.3,2108.5 L1113,2108.5 L1114.3,2113.5 L1117.1,2113.5 L1118.5,2108.5 L1122.2,2108.5 L1123.5,2113.5 L1126.3,2113.5 L1127.7,2108.5 L1131.4,2108.5 L1132.7,2113.5 L1135.5,2113.5 L1136.9,2108.5 L1140.6,2108.5 L1141.9,2113.5 L1144.7,2113.5 L1146.1,2108.5 L1149.8,2108.5 L1151.1,2113.5 L1153.9,2113.5 L1155.3,2108.5 L1159,2108.5 L1160.3,2113.5 L1163.1,2113.5 L1164.5,2108.5 L1168.2,2108.5 L1169.5,2113.5 L1172.3,2113.5 L1173.7,2108.5 L1177.4,2108.5 L1178.7,2113.5 L1181.5,2113.5 L1182.9,2108.5 L1186.6,2108.5 L1187.9,2113.5 L1190.7,2113.5 L1192.1,2108.5 L1195.8,2108.5 L1197.1,2113.5 L1199.9,2113.5 L1201.3,2108.5 L1205,2108.5 L1206.3,2113.5 L1209.1,2113.5 L1210.5,2108.5 L1214.2,2108.5 L1215.5,2113.5 L1218.3,2113.5 L1219.7,2108.5 L1223.4,2108.5 L1224.7,2113.5 L1227.5,2113.5 L1228.9,2108.5 L1232.6,2108.5 L1233.9,2113.5 L1236.7,2113.5 L1238.1,2108.5 L1241.8,2108.5 L1243.1,2113.5 L1245.9,2113.5 L1247.3,2108.5 L1251,2108.5 L1252.3,2113.5 L1255.1,2113.5 L1256.5,2108.5 L1260.2,2108.5 L1261.5,2113.5 L1264.3,2113.5 L1265.7,2108.5 L1269.4,2108.5 L1270.7,2113.5 L1273.5,2113.5 L1274.9,2108.5 L1278.6,2108.5 L1279.9,2113.5 L1282.7,2113.5 L1284.1,2108.5 L1287.8,2108.5 L1289.1,2113.5 L1291.9,2113.5 L1293.3,2108.5 L1297,2108.5 L1298.3,2113.5 L1301.1,2113.5 L1302.5,2108.5 L1306.2,2108.5 L1307.5,2113.5 L1310.3,2113.5 L1311.7,2108.5 L1315.4,2108.5 L1316.7,2113.5 L1319.5,2113.5 L1320.9,2108.5 L1324.6,2108.5 L1325.9,2113.5 L1328.7,2113.5 L1330.1,2108.5 L1333.8,2108.5 L1335.1,2113.5 L1337.9,2113.5 L1339.3,2108.5 L1343,2108.5 L1344.3,2113.5 L1347.1,2113.5 L1348.5,2108.5 L1352.2,2108.5 L1353.5,2113.5 L1356.3,2113.5 L1357.7,2108.5 L1361.4,2108.5 L1362.7,2113.5 L1365.5,2113.5 L1370.7,2113.5 L1370.7,2147.7 L1369.3,2154.2 L1365.6,2154.2 L1364.3,2147.7 L1361.5,2147.7 L1360.1,2154.2 L1356.4,2154.2 L1355.1,2147.7 L1352.3,2147.7 L1350.9,2154.2 L1347.2,2154.2 L1345.9,2147.7 L1343.1,2147.7 L1341.7,2154.2 L1338,2154.2 L1336.7,2147.7 L1333.9,2147.7 L1332.5,2154.2 L1328.8,2154.2 L1327.5,2147.7 L1324.7,2147.7 L1323.3,2154.2 L1319.6,2154.2 L1318.3,2147.7 L1315.5,2147.7 L1314.1,2154.2 L1310.4,2154.2 L1309.1,2147.7 L1306.3,2147.7 L1304.9,2154.2 L1301.2,2154.2 L1299.9,2147.7 L1297.1,2147.7 L1295.7,2154.2 L1292,2154.2 L1290.7,2147.7 L1287.9,2147.7 L1286.5,2154.2 L1282.8,2154.2 L1281.5,2147.7 L1278.7,2147.7 L1277.3,2154.2 L1273.6,2154.2 L1272.3,2147.7 L1269.5,2147.7 L1268.1,2154.2 L1264.4,2154.2 L1263.1,2147.7 L1260.3,2147.7 L1258.9,2154.2 L1255.2,2154.2 L1253.9,2147.7 L1251.1,2147.7 L1249.7,2154.2 L1246,2154.2 L1244.7,2147.7 L1241.9,2147.7 L1240.5,2154.2 L1236.8,2154.2 L1235.5,2147.7 L1232.7,2147.7 L1231.3,2154.2 L1227.6,2154.2 L1226.3,2147.7 L1223.5,2147.7 L1222.1,2154.2 L1218.4,2154.2 L1217.1,2147.7 L1214.3,2147.7 L1212.9,2154.2 L1209.2,2154.2 L1207.9,2147.7 L1205.1,2147.7 L1203.7,2154.2 L1200,2154.2 L1198.7,2147.7 L1195.9,2147.7 L1194.5,2154.2 L1190.8,2154.2 L1189.5,2147.7 L1186.7,2147.7 L1185.3,2154.2 L1181.6,2154.2 L1180.3,2147.7 L1177.5,2147.7 L1176.1,2154.2 L1172.4,2154.2 L1171.1,2147.7 L1168.3,2147.7 L1166.9,2154.2 L1163.2,2154.2 L1161.9,2147.7 L1159.1,2147.7 L1157.7,2154.2 L1154,2154.2 L1152.7,2147.7 L1149.9,2147.7 L1148.5,2154.2 L1144.8,2154.2 L1143.5,2147.7 L1140.7,2147.7 L1139.3,2154.2 L1135.6,2154.2 L1134.3,2147.7 L1131.5,2147.7 L1130.1,2154.2 L1126.4,2154.2 L1125.1,2147.7 L1122.3,2147.7 L1120.9,2154.2 L1117.2,2154.2 L1115.9,2147.7 L1113.1,2147.7 L1111.7,2154.2 L1108,2154.2 L1106.7,2147.7 L1103.9,2147.7 L1102.5,2154.2 L1098.8,2154.2 L1097.5,2147.7 L1094.7,2147.7 L1093.3,2154.2 L1089.6,2154.2 L1088.3,2147.7 L1085.5,2147.7 L1084.1,2154.2 L1080.4,2154.2 L1079.1,2147.7 L1076.3,2147.7 L1074.9,2154.2 L1071.2,2154.2 L1069.9,2147.7 L1067.1,2147.7 L1065.7,2154.2 L1062,2154.2 L1060.7,2147.7 L1057.9,2147.7 L1056.5,2154.2 L1052.8,2154.2 L1051.5,2147.7 L1048.7,2147.7 L1047.3,2154.2 L1043.6,2154.2 L1042.3,2147.7 L1039.5,2147.7 L1038.1,2154.2 L1034.4,2154.2 L1033.1,2147.7 L1030.3,2147.7 L1028.9,2154.2 L1025.2,2154.2 L1023.9,2147.7 L1021.1,2147.7 L1019.7,2154.2 L1016,2154.2 L1014.7,2147.7 L1011.9,2147.7 L1010.5,2154.2 L1006.8,2154.2 L1005.5,2147.7 L1002.7,2147.7 L1001.3,2154.2 L997.6,2154.2 L996.3,2147.7 L993.5,2147.7 L992.1,2154.2 L988.4,2154.2 L987.1,2147.7 L984.3,2147.7 L982.9,2154.2 L979.2,2154.2 L977.9,2147.7 L975.1,2147.7 L973.7,2154.2 L970,2154.2 L968.7,2147.7 L965.9,2147.7 L964.5,2154.2 L960.8,2154.2 L959.5,2147.7 L956.7,2147.7 L955.3,2154.2 L951.6,2154.2 L950.3,2147.7 L947.5,2147.7 L946.1,2154.2 L942.4,2154.2 L941.1,2147.7 L938.3,2147.7 L936.9,2154.2 L933.2,2154.2 L931.9,2147.7 L929.1,2147.7 L927.7,2154.2 L924,2154.2 L922.7,2147.7 L919.9,2147.7 L918.5,2154.2 L914.8,2154.2 L913.5,2147.7 L910.7,2147.7 L909.3,2154.2 L905.6,2154.2 L904.3,2147.7 L901.5,2147.7 L900.1,2154.2 L896.4,2154.2 L895.1,2147.7 L892.3,2147.7 L890.9,2154.2 L887.2,2154.2 L885.9,2147.7 L883.1,2147.7 L881.7,2154.2 L878,2154.2 L876.7,2147.7 L873.9,2147.7 L872.5,2154.2 L868.8,2154.2 L867.5,2147.7 L864.7,2147.7 L863.3,2154.2 L859.6,2154.2 L858.3,2147.7 L855.5,2147.7 L854.1,2154.2 L850.4,2154.2 L849.1,2147.7 L846.3,2147.7 L844.9,2154.2 L841.2,2154.2 L839.9,2147.7 L837.1,2147.7 L835.7,2154.2 L832,2154.2 L830.7,2147.7 L827.9,2147.7 L826.5,2154.2 L822.8,2154.2 L821.5,2147.7 L818.7,2147.7 L817.3,2154.2 L813.6,2154.2 L812.3,2147.7 L809.5,2147.7 L808.1,2154.2 L804.4,2154.2 L803.1,2147.7 L800.3,2147.7 L798.9,2154.2 L795.2,2154.2 L793.9,2147.7 L791.1,2147.7 L789.7,2154.2 L786,2154.2 L784.7,2147.7 L781.9,2147.7 L780.5,2154.2 L776.8,2154.2 L775.5,2147.7 L772.7,2147.7 L771.3,2154.2 L767.6,2154.2 L766.3,2147.7 L763.5,2147.7 L762.1,2154.2 L758.4,2154.2 L757.1,2147.7 L754.3,2147.7 L752.9,2154.2 L749.2,2154.2 L747.9,2147.7 L745.1,2147.7 L743.7,2154.2 L740,2154.2 L738.7,2147.7 L735.9,2147.7 L734.5,2154.2 L730.8,2154.2 L729.5,2147.7 L726.7,2147.7 L725.3,2154.2 L721.6,2154.2 L720.3,2147.7 L717.5,2147.7 L716.1,2154.2 L712.4,2154.2 L711.1,2147.7 L708.3,2147.7 L706.9,2154.2 L703.2,2154.2 L701.9,2147.7 L699.1,2147.7 L697.7,2154.2 L694,2154.2 L692.7,2147.7 L689.9,2147.7 L688.5,2154.2 L684.8,2154.2 L683.5,2147.7 L680.7,2147.7 L679.3,2154.2 L675.6,2154.2 L674.3,2147.7 L671.5,2147.7 L670.1,2154.2 L666.4,2154.2 L665.1,2147.7 L662.3,2147.7 L660.9,2154.2 L657.2,2154.2 L655.9,2147.7 L653.1,2147.7 L651.7,2154.2 L648,2154.2 L646.7,2147.7 L643.9,2147.7 L642.5,2154.2 L638.8,2154.2 L637.5,2147.7 L634.7,2147.7 L633.3,2154.2 L629.6,2154.2 L628.3,2147.7 L625.5,2147.7 L624.1,2154.2 L620.4,2154.2 L619.1,2147.7 L616.3,2147.7 L614.9,2154.2 L611.2,2154.2 L609.9,2147.7 L607.1,2147.7 L605.7,2154.2 L602,2154.2 L600.7,2147.7 L597.9,2147.7 L596.5,2154.2 L592.8,2154.2 L591.5,2147.7 L588.7,2147.7 L587.3,2154.2 L583.6,2154.2 L582.3,2147.7 L579.5,2147.7 L578.1,2154.2 L574.4,2154.2 L573.1,2147.7 L570.3,2147.7 L568.9,2154.2 L565.2,2154.2 L563.9,2147.7 L561.1,2147.7 L559.7,2154.2 L556,2154.2 L554.7,2147.7 L551.9,2147.7 L550.5,2154.2 L546.8,2154.2 L545.5,2147.7 L542.7,2147.7 L541.3,2154.2 L537.6,2154.2 L536.3,2147.7 L533.5,2147.7 L532.1,2154.2 L528.4,2154.2 L527.1,2147.7 L524.3,2147.7 L522.9,2154.2 L519.2,2154.2 L517.9,2147.7 L515.1,2147.7 L513.7,2154.2 L510,2154.2 L508.7,2147.7 L505.9,2147.7 L504.5,2154.2 L500.8,2154.2 L499.5,2147.7 L496.7,2147.7 L495.3,2154.2 L491.6,2154.2 L490.3,2147.7 L487.5,2147.7 L486.1,2154.2 L482.4,2154.2 L481.1,2147.7 L478.3,2147.7 L476.9,2154.2 L473.2,2154.2 L471.9,2147.7 L469.1,2147.7 L467.7,2154.2 L464,2154.2 L462.7,2147.7 L459.9,2147.7 L458.5,2154.2 L454.8,2154.2 L453.5,2147.7 L450.7,2147.7 L449.3,2154.2 L445.6,2154.2 L444.3,2147.7 L441.5,2147.7 L440.1,2154.2 L436.4,2154.2 L435.1,2147.7 L432.3,2147.7 L430.9,2154.2 L427.2,2154.2 L425.9,2147.7 L423.1,2147.7 L421.7,2154.2 L418,2154.2 L416.7,2147.7 L413.9,2147.7 L412.5,2154.2 L408.8,2154.2 L407.5,2147.7 L404.7,2147.7 L403.3,2154.2 L399.6,2154.2 L398.3,2147.7 L395.5,2147.7 L394.1,2154.2 L390.4,2154.2 L389.1,2147.7 L386.3,2147.7 L384.9,2154.2 L381.2,2154.2 L379.9,2147.7 L377.1,2147.7 L375.7,2154.2 L372,2154.2 L370.7,2147.7 L367.9,2147.7 L366.5,2154.2 L362.8,2154.2 L361.5,2147.7 L358.7,2147.7 L357.3,2154.2 L353.6,2154.2 L352.3,2147.7 L349.5,2147.7 L348.1,2154.2 L344.4,2154.2 L343.1,2147.7 L340.3,2147.7 L338.9,2154.2 L335.2,2154.2 L333.9,2147.7 L331.1,2147.7 L329.7,2154.2 L326,2154.2 L324.7,2147.7 L321.9,2147.7 L320.5,2154.2 L316.8,2154.2 L315.5,2147.7 L312.7,2147.7 L311.3,2154.2 L307.6,2154.2 L306.3,2147.7 L303.5,2147.7 L302.1,2154.2 L298.4,2154.2 L297.1,2147.7 L294.3,2147.7 L292.9,2154.2 L289.2,2154.2 L287.9,2147.7 L285.1,2147.7 L283.7,2154.2 L280,2154.2 L278.7,2147.7 L275.9,2147.7 L274.5,2154.2 L270.8,2154.2 L269.5,2147.7 L266.7,2147.7 L265.3,2154.2 L261.6,2154.2 L260.3,2147.7 L257.5,2147.7 L256.1,2154.2 L252.4,2154.2 L251.1,2147.7 L248.3,2147.7 L246.9,2154.2 L243.2,2154.2 L241.9,2147.7 L239.1,2147.7 L237.7,2154.2 L234,2154.2 L232.7,2147.7 L229.9,2147.7 L228.5,2154.2 L224.8,2154.2 L223.5,2147.7 L220.7,2147.7 L215.5,2147.7 Z" fill="#ff0080"/>
<path d="M1384.6,2125.3 L1397.5,2125.3 L1397.5,2116.5 L1398.9,2113 L1402.6,2113 L1403.9,2116.5 L1406.7,2116.5 L1408.1,2113 L1411.8,2113 L1413.1,2116.5 L1415.9,2116.5 L1417.3,2113 L1421,2113 L1422.3,2116.5 L1425.1,2116.5 L1426.5,2113 L1430.2,2113 L1431.5,2116.5 L1434.3,2116.5 L1435.7,2113 L1439.4,2113 L1440.7,2116.5 L1443.5,2116.5 L1451,2116.5 L1451,2129.5 L1462.3,2129.5 L1462.3,2112 L1471,2112 L1471,2104 L1479.6,2104 L1479.6,2108 L1481,2105 L1484.7,2105 L1486,2108 L1488.8,2108 L1490.2,2105 L1493.9,2105 L1495.2,2108 L1498,2108 L1498,2108 L1498,2113.5 L1499.4,2108.5 L1503.1,2108.5 L1504.4,2113.5 L1507.2,2113.5 L1508.6,2108.5 L1512.3,2108.5 L1513.6,2113.5 L1516.4,2113.5 L1517.8,2108.5 L1521.5,2108.5 L1522.8,2113.5 L1525.6,2113.5 L1527,2108.5 L1530.7,2108.5 L1532,2113.5 L1534.8,2113.5 L1536.2,2108.5 L1539.9,2108.5 L1541.2,2113.5 L1544,2113.5 L1545.4,2108.5 L1549.1,2108.5 L1550.4,2113.5 L1553.2,2113.5 L1554.6,2108.5 L1558.3,2108.5 L1559.6,2113.5 L1562.4,2113.5 L1563.8,2108.5 L1567.5,2108.5 L1568.8,2113.5 L1571.6,2113.5 L1573,2108.5 L1576.7,2108.5 L1578,2113.5 L1580.8,2113.5 L1582.2,2108.5 L1585.9,2108.5 L1587.2,2113.5 L1590,2113.5 L1591.4,2108.5 L1595.1,2108.5 L1596.4,2113.5 L1599.2,2113.5 L1600.6,2108.5 L1604.3,2108.5 L1605.6,2113.5 L1608.4,2113.5 L1609.8,2108.5 L1613.5,2108.5 L1614.8,2113.5 L1617.6,2113.5 L1619,2108.5 L1622.7,2108.5 L1624,2113.5 L1626.8,2113.5 L1628.2,2108.5 L1631.9,2108.5 L1633.2,2113.5 L1636,2113.5 L1637.4,2108.5 L1641.1,2108.5 L1642.4,2113.5 L1645.2,2113.5 L1646.6,2108.5 L1650.3,2108.5 L1651.6,2113.5 L1654.4,2113.5 L1655.8,2108.5 L1659.5,2108.5 L1660.8,2113.5 L1663.6,2113.5 L1665,2108.5 L1668.7,2108.5 L1670,2113.5 L1672.8,2113.5 L1674.2,2108.5 L1677.9,2108.5 L1679.2,2113.5 L1682,2113.5 L1683.4,2108.5 L1687.1,2108.5 L1688.4,2113.5 L1691.2,2113.5 L1692.6,2108.5 L1696.3,2108.5 L1697.6,2113.5 L1700.4,2113.5 L1701.8,2108.5 L1705.5,2108.5 L1706.8,2113.5 L1709.6,2113.5 L1711,2108.5 L1714.7,2108.5 L1716,2113.5 L1718.8,2113.5 L1720.2,2108.5 L1723.9,2108.5 L1725.2,2113.5 L1728,2113.5 L1729.4,2108.5 L1733.1,2108.5 L1734.4,2113.5 L1737.2,2113.5 L1738.6,2108.5 L1742.3,2108.5 L1743.6,2113.5 L1746.4,2113.5 L1747.8,2108.5 L1751.5,2108.5 L1752.8,2113.5 L1755.6,2113.5 L1757,2108.5 L1760.7,2108.5 L1762,2113.5 L1764.8,2113.5 L1766.2,2108.5 L1769.9,2108.5 L1771.2,2113.5 L1774,2113.5 L1775.4,2108.5 L1779.1,2108.5 L1780.4,2113.5 L1783.2,2113.5 L1784.6,2108.5 L1788.3,2108.5 L1789.6,2113.5 L1792.4,2113.5 L1793.8,2108.5 L1797.5,2108.5 L1798.8,2113.5 L1801.6,2113.5 L1803,2108.5 L1806.7,2108.5 L1808,2113.5 L1810.8,2113.5 L1812.2,2108.5 L1815.9,2108.5 L1817.2,2113.5 L1820,2113.5 L1821.4,2108.5 L1825.1,2108.5 L1826.4,2113.5 L1829.2,2113.5 L1830.6,2108.5 L1834.3,2108.5 L1835.6,2113.5 L1838.4,2113.5 L1839.8,2108.5 L1843.5,2108.5 L1844.8,2113.5 L1847.6,2113.5 L1849,2108.5 L1852.7,2108.5 L1854,2113.5 L1856.8,2113.5 L1858.2,2108.5 L1861.9,2108.5 L1863.2,2113.5 L1866,2113.5 L1867.4,2108.5 L1871.1,2108.5 L1872.4,2113.5 L1875.2,2113.5 L1876.6,2108.5 L1880.3,2108.5 L1881.6,2113.5 L1884.4,2113.5 L1885.8,2108.5 L1889.5,2108.5 L1890.8,2113.5 L1893.6,2113.5 L1895,2108.5 L1898.7,2108.5 L1900,2113.5 L1902.8,2113.5 L1904.2,2108.5 L1907.9,2108.5 L1909.2,2113.5 L1912,2113.5 L1913.4,2108.5 L1917.1,2108.5 L1918.4,2113.5 L1921.2,2113.5 L1922.6,2108.5 L1926.3,2108.5 L1927.6,2113.5 L1930.4,2113.5 L1931.8,2108.5 L1935.5,2108.5 L1936.8,2113.5 L1939.6,2113.5 L1941,2108.5 L1944.7,2108.5 L1946,2113.5 L1948.8,2113.5 L1950.2,2108.5 L1953.9,2108.5 L1955.2,2113.5 L1958,2113.5 L1959.4,2108.5 L1963.1,2108.5 L1964.4,2113.5 L1967.2,2113.5 L1968.6,2108.5 L1972.3,2108.5 L1973.6,2113.5 L1976.4,2113.5 L1977.8,2108.5 L1981.5,2108.5 L1982.8,2113.5 L1985.6,2113.5 L1987,2108.5 L1990.7,2108.5 L1992,2113.5 L1994.8,2113.5 L1996.2,2108.5 L1999.9,2108.5 L2001.2,2113.5 L2004,2113.5 L2005.4,2108.5 L2009.1,2108.5 L2010.4,2113.5 L2013.2,2113.5 L2014.6,2108.5 L2018.3,2108.5 L2019.6,2113.5 L2022.4,2113.5 L2023.8,2108.5 L2027.5,2108.5 L2028.8,2113.5 L2031.6,2113.5 L2033,2108.5 L2036.7,2108.5 L2038,2113.5 L2040.8,2113.5 L2042.2,2108.5 L2045.9,2108.5 L2047.2,2113.5 L2050,2113.5 L2051.4,2108.5 L2055.1,2108.5 L2056.4,2113.5 L2059.2,2113.5 L2060.6,2108.5 L2064.3,2108.5 L2065.6,2113.5 L2068.4,2113.5 L2069.8,2108.5 L2073.5,2108.5 L2074.8,2113.5 L2077.6,2113.5 L2079,2108.5 L2082.7,2108.5 L2084,2113.5 L2086.8,2113.5 L2091.5,2113.5 L2091.5,2147.7 L2090.1,2154.2 L2086.4,2154.2 L2085.1,2147.7 L2082.3,2147.7 L2080.9,2154.2 L2077.2,2154.2 L2075.9,2147.7 L2073.1,2147.7 L2071.7,2154.2 L2068,2154.2 L2066.7,2147.7 L2063.9,2147.7 L2062.5,2154.2 L2058.8,2154.2 L2057.5,2147.7 L2054.7,2147.7 L2053.3,2154.2 L2049.6,2154.2 L2048.3,2147.7 L2045.5,2147.7 L2044.1,2154.2 L2040.4,2154.2 L2039.1,2147.7 L2036.3,2147.7 L2034.9,2154.2 L2031.2,2154.2 L2029.9,2147.7 L2027.1,2147.7 L2025.7,2154.2 L2022,2154.2 L2020.7,2147.7 L2017.9,2147.7 L2016.5,2154.2 L2012.8,2154.2 L2011.5,2147.7 L2008.7,2147.7 L2007.3,2154.2 L2003.6,2154.2 L2002.3,2147.7 L1999.5,2147.7 L1998.1,2154.2 L1994.4,2154.2 L1993.1,2147.7 L1990.3,2147.7 L1988.9,2154.2 L1985.2,2154.2 L1983.9,2147.7 L1981.1,2147.7 L1979.7,2154.2 L1976,2154.2 L1974.7,2147.7 L1971.9,2147.7 L1970.5,2154.2 L1966.8,2154.2 L1965.5,2147.7 L1962.7,2147.7 L1961.3,2154.2 L1957.6,2154.2 L1956.3,2147.7 L1953.5,2147.7 L1952.1,2154.2 L1948.4,2154.2 L1947.1,2147.7 L1944.3,2147.7 L1942.9,2154.2 L1939.2,2154.2 L1937.9,2147.7 L1935.1,2147.7 L1933.7,2154.2 L1930,2154.2 L1928.7,2147.7 L1925.9,2147.7 L1924.5,2154.2 L1920.8,2154.2 L1919.5,2147.7 L1916.7,2147.7 L1915.3,2154.2 L1911.6,2154.2 L1910.3,2147.7 L1907.5,2147.7 L1906.1,2154.2 L1902.4,2154.2 L1901.1,2147.7 L1898.3,2147.7 L1896.9,2154.2 L1893.2,2154.2 L1891.9,2147.7 L1889.1,2147.7 L1887.7,2154.2 L1884,2154.2 L1882.7,2147.7 L1879.9,2147.7 L1878.5,2154.2 L1874.8,2154.2 L1873.5,2147.7 L1870.7,2147.7 L1869.3,2154.2 L1865.6,2154.2 L1864.3,2147.7 L1861.5,2147.7 L1860.1,2154.2 L1856.4,2154.2 L1855.1,2147.7 L1852.3,2147.7 L1850.9,2154.2 L1847.2,2154.2 L1845.9,2147.7 L1843.1,2147.7 L1841.7,2154.2 L1838,2154.2 L1836.7,2147.7 L1833.9,2147.7 L1832.5,2154.2 L1828.8,2154.2 L1827.5,2147.7 L1824.7,2147.7 L1823.3,2154.2 L1819.6,2154.2 L1818.3,2147.7 L1815.5,2147.7 L1814.1,2154.2 L1810.4,2154.2 L1809.1,2147.7 L1806.3,2147.7 L1804.9,2154.2 L1801.2,2154.2 L1799.9,2147.7 L1797.1,2147.7 L1795.7,2154.2 L1792,2154.2 L1790.7,2147.7 L1787.9,2147.7 L1786.5,2154.2 L1782.8,2154.2 L1781.5,2147.7 L1778.7,2147.7 L1777.3,2154.2 L1773.6,2154.2 L1772.3,2147.7 L1769.5,2147.7 L1768.1,2154.2 L1764.4,2154.2 L1763.1,2147.7 L1760.3,2147.7 L1758.9,2154.2 L1755.2,2154.2 L1753.9,2147.7 L1751.1,2147.7 L1749.7,2154.2 L1746,2154.2 L1744.7,2147.7 L1741.9,2147.7 L1740.5,2154.2 L1736.8,2154.2 L1735.5,2147.7 L1732.7,2147.7 L1731.3,2154.2 L1727.6,2154.2 L1726.3,2147.7 L1723.5,2147.7 L1722.1,2154.2 L1718.4,2154.2 L1717.1,2147.7 L1714.3,2147.7 L1712.9,2154.2 L1709.2,2154.2 L1707.9,2147.7 L1705.1,2147.7 L1703.7,2154.2 L1700,2154.2 L1698.7,2147.7 L1695.9,2147.7 L1694.5,2154.2 L1690.8,2154.2 L1689.5,2147.7 L1686.7,2147.7 L1685.3,2154.2 L1681.6,2154.2 L1680.3,2147.7 L1677.5,2147.7 L1676.1,2154.2 L1672.4,2154.2 L1671.1,2147.7 L1668.3,2147.7 L1666.9,2154.2 L1663.2,2154.2 L1661.9,2147.7 L1659.1,2147.7 L1657.7,2154.2 L1654,2154.2 L1652.7,2147.7 L1649.9,2147.7 L1648.5,2154.2 L1644.8,2154.2 L1643.5,2147.7 L1640.7,2147.7 L1639.3,2154.2 L1635.6,2154.2 L1634.3,2147.7 L1631.5,2147.7 L1630.1,2154.2 L1626.4,2154.2 L1625.1,2147.7 L1622.3,2147.7 L1620.9,2154.2 L1617.2,2154.2 L1615.9,2147.7 L1613.1,2147.7 L1611.7,2154.2 L1608,2154.2 L1606.7,2147.7 L1603.9,2147.7 L1602.5,2154.2 L1598.8,2154.2 L1597.5,2147.7 L1594.7,2147.7 L1593.3,2154.2 L1589.6,2154.2 L1588.3,2147.7 L1585.5,2147.7 L1584.1,2154.2 L1580.4,2154.2 L1579.1,2147.7 L1576.3,2147.7 L1574.9,2154.2 L1571.2,2154.2 L1569.9,2147.7 L1567.1,2147.7 L1565.7,2154.2 L1562,2154.2 L1560.7,2147.7 L1557.9,2147.7 L1556.5,2154.2 L1552.8,2154.2 L1551.5,2147.7 L1548.7,2147.7 L1547.3,2154.2 L1543.6,2154.2 L1542.3,2147.7 L1539.5,2147.7 L1538.1,2154.2 L1534.4,2154.2 L1533.1,2147.7 L1530.3,2147.7 L1528.9,2154.2 L1525.2,2154.2 L1523.9,2147.7 L1521.1,2147.7 L1519.7,2154.2 L1516,2154.2 L1514.7,2147.7 L1511.9,2147.7 L1510.5,2154.2 L1506.8,2154.2 L1505.5,2147.7 L1502.7,2147.7 L1501.3,2154.2 L1497.6,2154.2 L1496.3,2147.7 L1493.5,2147.7 L1492.1,2154.2 L1488.4,2154.2 L1487.1,2147.7 L1484.3,2147.7 L1482.9,2154.2 L1479.2,2154.2 L1477.9,2147.7 L1475.1,2147.7 L1469,2147.7 L1469,2162 L1466.6,2162 L1456,2162 L1449.4,2162 L1449.4,2157.5 L1448,2161 L1444.3,2161 L1443,2157.5 L1440.2,2157.5 L1438.8,2161 L1435.1,2161 L1433.8,2157.5 L1431,2157.5 L1429.6,2161 L1425.9,2161 L1424.6,2157.5 L1421.8,2157.5 L1420.4,2161 L1416.7,2161 L1415.4,2157.5 L1412.6,2157.5 L1411.2,2161 L1407.5,2161 L1406.2,2157.5 L1403.4,2157.5 L1402,2161 L1398.3,2161 L1397,2157.5 L1394.2,2157.5 L1390.6,2157.5 L1390.6,2160 L1384.6,2160 Z" fill="#ff0080"/>
<path d="M1370.8,2115 L1373,1811 L1384.7,1811 L1384.7,2100 L1390.7,2160 L1390.7,2181 L1380.2,2181 L1378,2150 L1370.8,2148 Z" fill="#e8127a"/>
<path d="M1455.8,2150 L1467.8,2150 L1467.8,2226 L1455.8,2226 Z" fill="#e8127a"/>
<path d="M1455.8,2226 L1467.8,2226 L1467.3,2231 L1455.8,2231 Z" fill="#9a4a20"/>
</g>
<line x1="362" y1="2056.6" x2="379" y2="2056.6" stroke="#c4c4c4" stroke-width="2.5"/><circle cx="362" cy="2056.6" r="3" fill="#858585"/>
<g transform="translate(378.2,1599) scale(1.0833,1.0863)">
<rect x="1.5" y="1.5" width="628.8" height="627.3" fill="#00ffff" stroke="#1d6868" stroke-width="3"/>
<rect x="19" y="19.5" width="591.5" height="591.5" fill="#f578f5"/>
<rect x="19" y="19.5" width="591.5" height="591.5" fill="none" stroke="#3ad0e8" stroke-width="2"/>
<rect x="21" y="21" width="57.5" height="46" fill="#ccffcc" stroke="#9fb8a0" stroke-width="1.5"/>
<rect x="553.5" y="21" width="56" height="50" fill="#ccffcc" stroke="#9fb8a0" stroke-width="1.5"/>
<rect x="21" y="564" width="57.5" height="47" fill="#ccffcc" stroke="#9fb8a0" stroke-width="1.5"/>
<rect x="553.5" y="564" width="56" height="47" fill="#ccffcc" stroke="#9fb8a0" stroke-width="1.5"/>
<rect x="77.5" y="78.5" width="474" height="476" fill="#ccffcc" stroke="#000" stroke-width="4"/>
<line x1="173.4" y1="82" x2="173.4" y2="553" stroke="#222" stroke-width="3.6" stroke-dasharray="3.6 14.4"/>
<line x1="270.4" y1="82" x2="270.4" y2="553" stroke="#222" stroke-width="3.6" stroke-dasharray="3.6 14.4"/>
<line x1="367.3" y1="82" x2="367.3" y2="553" stroke="#222" stroke-width="3.6" stroke-dasharray="3.6 14.4"/>
<line x1="463.1" y1="82" x2="463.1" y2="553" stroke="#222" stroke-width="3.6" stroke-dasharray="3.6 14.4"/>
<line x1="81" y1="163.5" x2="550" y2="163.5" stroke="#222" stroke-width="3.6" stroke-dasharray="3.6 14.4"/>
<line x1="81" y1="271.1" x2="550" y2="271.1" stroke="#222" stroke-width="3.6" stroke-dasharray="3.6 14.4"/>
<line x1="81" y1="376.4" x2="550" y2="376.4" stroke="#222" stroke-width="3.6" stroke-dasharray="3.6 14.4"/>
<line x1="81" y1="462.0" x2="550" y2="462.0" stroke="#222" stroke-width="3.6" stroke-dasharray="3.6 14.4"/>
<text transform="translate(128.5,134.2) scale(1,1.070)" font-size="44" text-anchor="middle" fill="#000" font-weight="bold">21</text>
<text transform="translate(221,134.2) scale(1,1.070)" font-size="44" text-anchor="middle" fill="#000" font-weight="bold">22</text>
<text transform="translate(315,134.2) scale(1,1.070)" font-size="44" text-anchor="middle" fill="#000" font-weight="bold">23</text>
<text transform="translate(416,134.2) scale(1,1.070)" font-size="44" text-anchor="middle" fill="#000" font-weight="bold">24</text>
<text transform="translate(507,134.2) scale(1,1.070)" font-size="44" text-anchor="middle" fill="#000" font-weight="bold">25</text>
<text transform="translate(128.5,230) scale(1,1.070)" font-size="44" text-anchor="middle" fill="#000" font-weight="bold">16</text>
<text transform="translate(221,230) scale(1,1.070)" font-size="44" text-anchor="middle" fill="#000" font-weight="bold">17</text>
<text transform="translate(315,230) scale(1,1.070)" font-size="44" text-anchor="middle" fill="#000" font-weight="bold">18</text>
<text transform="translate(416,230) scale(1,1.070)" font-size="44" text-anchor="middle" fill="#000" font-weight="bold">19</text>
<text transform="translate(507,230) scale(1,1.070)" font-size="44" text-anchor="middle" fill="#000" font-weight="bold">20</text>
<text transform="translate(128.5,334.4) scale(1,1.070)" font-size="44" text-anchor="middle" fill="#000" font-weight="bold">11</text>
<text transform="translate(221,334.4) scale(1,1.070)" font-size="44" text-anchor="middle" fill="#000" font-weight="bold">12</text>
<text transform="translate(315,334.4) scale(1,1.070)" font-size="44" text-anchor="middle" fill="#000" font-weight="bold">13</text>
<text transform="translate(416,334.4) scale(1,1.070)" font-size="44" text-anchor="middle" fill="#000" font-weight="bold">14</text>
<text transform="translate(507,334.4) scale(1,1.070)" font-size="44" text-anchor="middle" fill="#000" font-weight="bold">15</text>
<text transform="translate(128.5,437.5) scale(1,1.070)" font-size="44" text-anchor="middle" fill="#000" font-weight="bold">6</text>
<text transform="translate(221,437.5) scale(1,1.070)" font-size="44" text-anchor="middle" fill="#000" font-weight="bold">7</text>
<text transform="translate(315,437.5) scale(1,1.070)" font-size="44" text-anchor="middle" fill="#000" font-weight="bold">8</text>
<text transform="translate(416,437.5) scale(1,1.070)" font-size="44" text-anchor="middle" fill="#000" font-weight="bold">9</text>
<text transform="translate(507,437.5) scale(1,1.070)" font-size="44" text-anchor="middle" fill="#000" font-weight="bold">10</text>
<text transform="translate(128.5,523) scale(1,1.070)" font-size="44" text-anchor="middle" fill="#000" font-weight="bold">1</text>
<text transform="translate(221,523) scale(1,1.070)" font-size="44" text-anchor="middle" fill="#000" font-weight="bold">2</text>
<text transform="translate(315,523) scale(1,1.070)" font-size="44" text-anchor="middle" fill="#000" font-weight="bold">3</text>
<text transform="translate(416,523) scale(1,1.070)" font-size="44" text-anchor="middle" fill="#000" font-weight="bold">4</text>
<text transform="translate(507,523) scale(1,1.070)" font-size="44" text-anchor="middle" fill="#000" font-weight="bold">5</text>
<text x="316.5" y="57" font-size="43.5" text-anchor="middle" fill="#000" font-weight="bold">E-3</text>
<text x="318.5" y="600.7" font-size="43.5" text-anchor="middle" fill="#000" font-weight="bold">E-1</text>
<text x="33" y="273.7" font-size="43.5" text-anchor="start" fill="#000" font-weight="bold">E</text>
<text x="33" y="328" font-size="43.5" text-anchor="start" fill="#000" font-weight="bold">-</text>
<text x="33" y="382.5" font-size="43.5" text-anchor="start" fill="#000" font-weight="bold">2</text>
<text x="568.5" y="281.4" font-size="43.5" text-anchor="start" fill="#000" font-weight="bold">E</text>
<text x="568.5" y="335.4" font-size="43.5" text-anchor="start" fill="#000" font-weight="bold">-</text>
<text x="568.5" y="387.7" font-size="43.5" text-anchor="start" fill="#000" font-weight="bold">4</text>
<circle cx="221.4" cy="422.3" r="19.5" fill="#d70000" fill-opacity="0.66" stroke="#7080a8" stroke-width="2"/>
<text x="124.6" y="399.2" font-size="40.3" text-anchor="start" fill="#ff0000" font-weight="bold" textLength="203.5" lengthAdjust="spacingAndGlyphs">Touch point</text>
</g>
<path d="M1362.5,1446 L1391.5,1475 M1362.5,1475 L1391.5,1446" stroke="#ffc800" stroke-width="5.5" fill="none" stroke-linecap="butt"/>
<path d="M1363,1425.5 L1392,1454.5 M1363,1454.5 L1392,1425.5" stroke="#00e000" stroke-width="5.5" fill="none" stroke-linecap="butt"/>
<path d="M1363,1854.5 L1392,1883.5 M1363,1883.5 L1392,1854.5" stroke="#1414c8" stroke-width="5.5" fill="none" stroke-linecap="butt"/>
<path d="M1363,1803.5 L1392,1832.5 M1363,1832.5 L1392,1803.5" stroke="#e8127a" stroke-width="5.5" fill="none" stroke-linecap="butt"/>
<text x="1376" y="1438.4" font-size="48.5" text-anchor="start" fill="#000" font-weight="bold" textLength="340" lengthAdjust="spacingAndGlyphs">V(E-2)=0.4281V</text>
<text x="1376" y="1479.7" font-size="48.5" text-anchor="start" fill="#000" font-weight="bold" textLength="340" lengthAdjust="spacingAndGlyphs">V(E-1)=0.4191V</text>
<text x="1375" y="1838.4" font-size="48.5" text-anchor="start" fill="#000" font-weight="bold" textLength="341" lengthAdjust="spacingAndGlyphs">V(E-4)=0.1937V</text>
<text x="1372.5" y="1889.4" font-size="48.5" text-anchor="start" fill="#000" font-weight="bold" textLength="338" lengthAdjust="spacingAndGlyphs">V(E-3)=0.1618V</text>
<rect x="1923" y="1359.5" width="143" height="224.5" fill="#fff" stroke="#2b2b2b" stroke-width="5"/>
<line x1="1930.9" y1="1388.8" x2="1985.5" y2="1388.8" stroke="#f2c24a" stroke-width="8"/>
<line x1="1930.9" y1="1444.4" x2="1985.5" y2="1444.4" stroke="#2ee02e" stroke-width="8"/>
<line x1="1930.9" y1="1500.5" x2="1985.5" y2="1500.5" stroke="#0a0ab8" stroke-width="8"/>
<line x1="1930.9" y1="1556.4" x2="1985.5" y2="1556.4" stroke="#e01a78" stroke-width="8"/>
<text x="1989.5" y="1405.4" font-size="48.5" text-anchor="start" fill="#000" font-weight="bold" textLength="70" lengthAdjust="spacingAndGlyphs">E-1</text>
<text x="1989.5" y="1461.3" font-size="48.5" text-anchor="start" fill="#000" font-weight="bold" textLength="70" lengthAdjust="spacingAndGlyphs">E-2</text>
<text x="1989.5" y="1516.4" font-size="48.5" text-anchor="start" fill="#000" font-weight="bold" textLength="70" lengthAdjust="spacingAndGlyphs">E-3</text>
<text x="1989.5" y="1571.8" font-size="48.5" text-anchor="start" fill="#000" font-weight="bold" textLength="70" lengthAdjust="spacingAndGlyphs">E-4</text>
<text transform="translate(199.4,1354) scale(1,1.045)" font-size="66" text-anchor="end" fill="#000" font-weight="bold">0.5</text>
<text transform="translate(196.1,1511) scale(1,1.045)" font-size="66" text-anchor="end" fill="#000" font-weight="bold">0.4</text>
<text transform="translate(196.2,1671) scale(1,1.045)" font-size="66" text-anchor="end" fill="#000" font-weight="bold">0.3</text>
<text transform="translate(192.8,1828) scale(1,1.045)" font-size="66" text-anchor="end" fill="#000" font-weight="bold">0.2</text>
<text transform="translate(192.8,1990) scale(1,1.045)" font-size="66" text-anchor="end" fill="#000" font-weight="bold">0.1</text>
<text transform="translate(192.8,2150) scale(1,1.045)" font-size="66" text-anchor="end" fill="#000" font-weight="bold">0</text>
<text transform="translate(192.8,2300.5) scale(1,1.045)" font-size="66" text-anchor="end" fill="#000" font-weight="bold">-0.1</text>
<text transform="translate(213,2359.5) scale(1,1.045)" font-size="66" text-anchor="middle" fill="#000" font-weight="bold">0</text>
<text transform="translate(443.5,2359.5) scale(1,1.045)" font-size="66" text-anchor="middle" fill="#000" font-weight="bold">0.5</text>
<text transform="translate(684.5,2359.5) scale(1,1.045)" font-size="66" text-anchor="middle" fill="#000" font-weight="bold">1</text>
<text transform="translate(914.5,2359.5) scale(1,1.045)" font-size="66" text-anchor="middle" fill="#000" font-weight="bold">1.5</text>
<text transform="translate(1157.5,2359.5) scale(1,1.045)" font-size="66" text-anchor="middle" fill="#000" font-weight="bold">2</text>
<text transform="translate(1382.2,2359.5) scale(1,1.045)" font-size="66" text-anchor="middle" fill="#000" font-weight="bold">2.5</text>
<text transform="translate(1626.7,2359.5) scale(1,1.045)" font-size="66" text-anchor="middle" fill="#000" font-weight="bold">3</text>
<text transform="translate(1856.9,2359.5) scale(1,1.045)" font-size="66" text-anchor="middle" fill="#000" font-weight="bold">3.5</text>
<text transform="translate(2096.4,2359.5) scale(1,1.045)" font-size="66" text-anchor="middle" fill="#000" font-weight="bold">4</text>
<text x="1171.8" y="2422.4" font-size="72" text-anchor="middle" fill="#000" font-weight="bold" textLength="256" lengthAdjust="spacingAndGlyphs">Time (s)</text>
<text transform="translate(77.5,1803) rotate(-90)" font-size="75" text-anchor="middle" font-weight="bold" textLength="358" lengthAdjust="spacingAndGlyphs">Voltage (V)</text>
<text x="1168" y="2587.6" font-size="86" text-anchor="middle" fill="#000" font-weight="bold" textLength="101" lengthAdjust="spacingAndGlyphs"><tspan font-weight="normal">(</tspan>b<tspan font-weight="normal">)</tspan></text>
</svg></body></html>
